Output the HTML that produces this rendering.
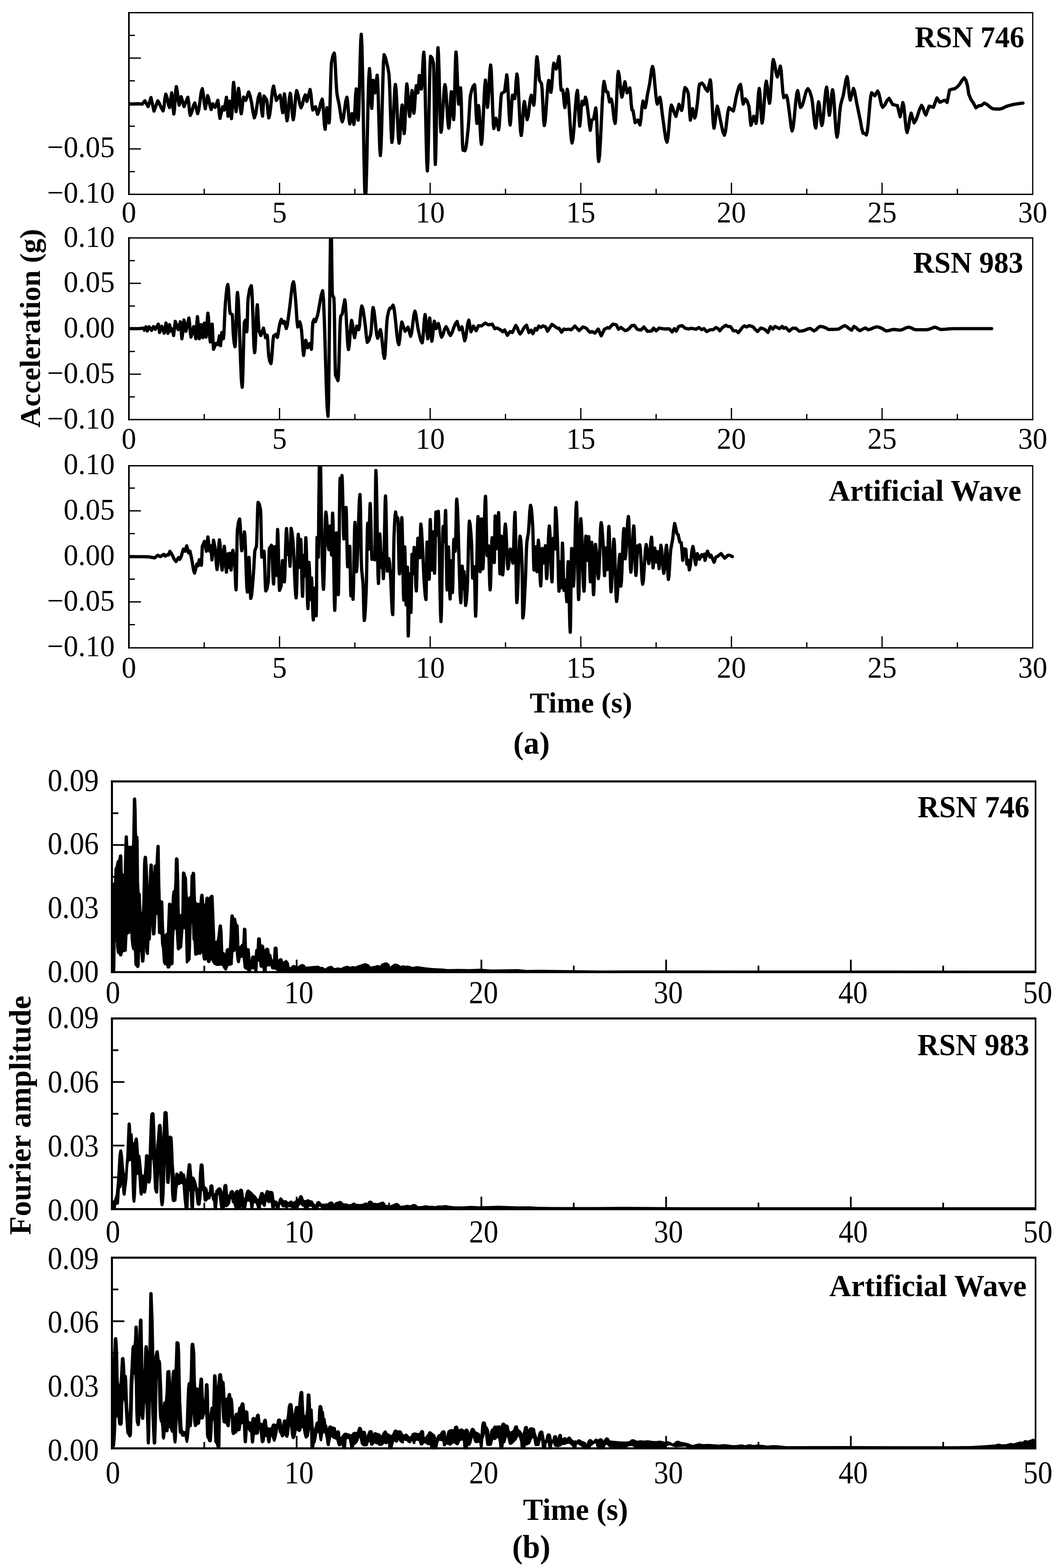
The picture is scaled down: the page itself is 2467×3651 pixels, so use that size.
<!DOCTYPE html>
<html lang="en">
<head>
<meta charset="utf-8">
<title>Ground motion records: acceleration time histories and Fourier amplitude spectra</title>
<style>
html,body{margin:0;padding:0;background:#fff;}
body{width:2467px;height:3651px;overflow:hidden;}
svg{display:block;font-family:"Liberation Serif", serif;}
</style>
</head>
<body>
<svg width="2467" height="3651" viewBox="0 0 2467 3651">
<rect width="2467" height="3651" fill="#fff"/>
<g stroke="#000" fill="none">
<path d="M300.00 82.38L314.00 82.38" stroke-width="3.0"/>
<path d="M300.00 135.25L328.00 135.25" stroke-width="3.0"/>
<path d="M300.00 188.12L314.00 188.12" stroke-width="3.0"/>
<path d="M300.00 241.00L328.00 241.00" stroke-width="3.0"/>
<path d="M300.00 293.88L314.00 293.88" stroke-width="3.0"/>
<path d="M300.00 346.75L328.00 346.75" stroke-width="3.0"/>
<path d="M300.00 399.62L314.00 399.62" stroke-width="3.0"/>
<path d="M475.29 452.50L475.29 439.50" stroke-width="3.0"/>
<path d="M650.58 452.50L650.58 425.50" stroke-width="3.0"/>
<path d="M825.88 452.50L825.88 439.50" stroke-width="3.0"/>
<path d="M1001.17 452.50L1001.17 425.50" stroke-width="3.0"/>
<path d="M1176.46 452.50L1176.46 439.50" stroke-width="3.0"/>
<path d="M1351.75 452.50L1351.75 425.50" stroke-width="3.0"/>
<path d="M1527.04 452.50L1527.04 439.50" stroke-width="3.0"/>
<path d="M1702.33 452.50L1702.33 425.50" stroke-width="3.0"/>
<path d="M1877.62 452.50L1877.62 439.50" stroke-width="3.0"/>
<path d="M2052.92 452.50L2052.92 425.50" stroke-width="3.0"/>
<path d="M2228.21 452.50L2228.21 439.50" stroke-width="3.0"/>
<path d="M300.00 606.88L314.00 606.88" stroke-width="3.0"/>
<path d="M300.00 659.75L328.00 659.75" stroke-width="3.0"/>
<path d="M300.00 712.62L314.00 712.62" stroke-width="3.0"/>
<path d="M300.00 765.50L328.00 765.50" stroke-width="3.0"/>
<path d="M300.00 818.38L314.00 818.38" stroke-width="3.0"/>
<path d="M300.00 871.25L328.00 871.25" stroke-width="3.0"/>
<path d="M300.00 924.12L314.00 924.12" stroke-width="3.0"/>
<path d="M475.29 977.00L475.29 964.00" stroke-width="3.0"/>
<path d="M650.58 977.00L650.58 950.00" stroke-width="3.0"/>
<path d="M825.88 977.00L825.88 964.00" stroke-width="3.0"/>
<path d="M1001.17 977.00L1001.17 950.00" stroke-width="3.0"/>
<path d="M1176.46 977.00L1176.46 964.00" stroke-width="3.0"/>
<path d="M1351.75 977.00L1351.75 950.00" stroke-width="3.0"/>
<path d="M1527.04 977.00L1527.04 964.00" stroke-width="3.0"/>
<path d="M1702.33 977.00L1702.33 950.00" stroke-width="3.0"/>
<path d="M1877.62 977.00L1877.62 964.00" stroke-width="3.0"/>
<path d="M2052.92 977.00L2052.92 950.00" stroke-width="3.0"/>
<path d="M2228.21 977.00L2228.21 964.00" stroke-width="3.0"/>
<path d="M300.00 1136.50L314.00 1136.50" stroke-width="3.0"/>
<path d="M300.00 1189.50L328.00 1189.50" stroke-width="3.0"/>
<path d="M300.00 1242.50L314.00 1242.50" stroke-width="3.0"/>
<path d="M300.00 1295.50L328.00 1295.50" stroke-width="3.0"/>
<path d="M300.00 1348.50L314.00 1348.50" stroke-width="3.0"/>
<path d="M300.00 1401.50L328.00 1401.50" stroke-width="3.0"/>
<path d="M300.00 1454.50L314.00 1454.50" stroke-width="3.0"/>
<path d="M475.29 1508.50L475.29 1495.50" stroke-width="3.0"/>
<path d="M650.58 1508.50L650.58 1481.50" stroke-width="3.0"/>
<path d="M825.88 1508.50L825.88 1495.50" stroke-width="3.0"/>
<path d="M1001.17 1508.50L1001.17 1481.50" stroke-width="3.0"/>
<path d="M1176.46 1508.50L1176.46 1495.50" stroke-width="3.0"/>
<path d="M1351.75 1508.50L1351.75 1481.50" stroke-width="3.0"/>
<path d="M1527.04 1508.50L1527.04 1495.50" stroke-width="3.0"/>
<path d="M1702.33 1508.50L1702.33 1481.50" stroke-width="3.0"/>
<path d="M1877.62 1508.50L1877.62 1495.50" stroke-width="3.0"/>
<path d="M2052.92 1508.50L2052.92 1481.50" stroke-width="3.0"/>
<path d="M2228.21 1508.50L2228.21 1495.50" stroke-width="3.0"/>
</g>
<rect x="298.10" y="27.95" width="3.80" height="426.10" fill="#000" stroke="none"/>
<rect x="2402.10" y="27.95" width="2.80" height="426.10" fill="#000" stroke="none"/>
<rect x="298.10" y="27.95" width="2106.80" height="3.10" fill="#000" stroke="none"/>
<rect x="298.10" y="450.95" width="2106.80" height="3.10" fill="#000" stroke="none"/>
<clipPath id="clip-a1"><rect x="300.0" y="29.5" width="2103.5" height="423.0"/></clipPath>
<path d="M296.0 241.6L301.0 241.9L306.0 242.1L311.0 242.1L316.0 241.9L321.0 241.6L326.0 242.0L331.0 242.4L337.2 234.7L340.9 241.5L344.7 248.2L348.1 237.7L351.4 227.2L354.9 243.0L358.4 258.7L362.8 246.7L367.2 234.7L370.9 240.6L374.7 249.9L379.6 258.2L381.7 248.1L383.8 229.4L385.9 219.2L388.8 227.3L391.7 242.4L394.6 250.5L397.1 233.2L399.6 216.0L401.3 228.8L402.9 252.6L404.6 265.5L406.0 255.5L407.5 233.6L408.9 211.7L410.4 201.8L412.6 213.0L414.9 233.8L417.1 245.0L419.3 235.1L421.6 225.2L425.0 236.7L428.3 248.2L432.7 237.4L437.1 226.5L439.0 237.4L440.9 257.8L442.8 268.7L446.3 261.2L449.8 247.2L453.3 239.7L456.7 252.1L460.0 264.5L462.7 255.4L465.4 235.5L468.1 215.6L470.8 206.5L473.1 218.6L475.4 241.1L477.8 253.2L480.5 238.0L483.3 222.7L486.0 231.1L488.8 246.6L491.5 255.0L495.0 241.5L500.7 250.0L503.9 241.7L507.0 233.5L508.7 244.4L510.3 264.8L512.0 275.7L515.1 262.1L518.2 248.5L522.0 256.2L524.5 241.4L527.0 226.5L528.8 248.6L530.7 270.7L532.6 253.1L534.5 235.5L536.6 255.8L538.7 276.2L539.9 263.0L541.2 234.0L542.4 205.0L543.7 191.8L545.1 202.4L546.6 225.9L548.0 249.3L549.4 260.0L551.3 245.9L553.3 219.6L555.2 205.5L556.7 214.8L558.3 235.2L559.9 255.7L561.4 265.0L563.2 254.9L565.1 236.1L566.9 226.0L571.9 233.8L575.3 224.0L578.6 214.2L582.1 223.2L585.6 239.9L588.8 260.6L591.9 274.5L595.0 265.6L598.1 246.2L601.2 226.8L604.4 218.0L606.6 231.6L608.9 256.9L611.1 270.5L612.7 247.0L614.4 223.5L620.6 232.4L622.3 245.1L623.9 264.5L625.6 274.5L627.8 266.7L630.1 248.3L632.3 226.4L634.6 208.0L636.8 200.3L639.9 217.0L643.1 233.8L647.4 227.6L651.8 221.5L653.9 232.1L656.0 251.9L658.0 262.5L659.9 240.5L661.8 218.5L663.4 228.3L664.9 249.9L666.5 271.4L668.0 281.2L669.9 271.2L671.8 249.2L673.7 227.2L675.5 217.2L677.3 226.8L679.0 248.0L680.8 269.1L682.5 278.7L684.5 268.1L686.5 244.8L688.5 221.5L690.5 210.9L693.8 221.3L697.2 240.7L700.5 251.1L703.8 243.3L707.1 228.7L710.5 220.9L714.2 236.1L718.0 222.2L721.7 208.4L723.8 220.7L725.9 243.7L728.0 256.1L734.2 248.5L736.7 257.3L739.2 266.1L742.8 256.9L746.3 240.0L749.9 230.8L751.6 241.8L753.3 265.9L755.0 290.1L756.7 301.0L758.1 288.0L759.5 263.8L760.9 250.8L763.4 268.4L765.9 286.1L766.9 276.4L767.8 252.0L768.8 219.8L769.7 186.6L770.7 159.3L771.6 144.8L774.8 129.4L777.9 123.5L779.1 131.8L780.4 152.1L781.6 177.6L782.9 201.6L784.1 217.3L786.6 231.1L789.1 242.2L791.6 258.7L794.1 275.7L796.6 283.6L799.3 274.6L802.0 255.0L804.7 235.3L807.4 226.3L809.0 236.1L810.7 257.5L812.4 278.8L814.1 288.6L816.6 276.6L819.1 264.5L821.3 277.2L823.6 289.8L825.0 276.9L826.3 248.5L827.7 220.0L829.1 207.1L830.2 218.5L831.3 243.5L832.4 268.5L833.6 279.8L834.8 265.0L836.0 228.0L837.2 179.8L838.4 131.6L839.6 94.6L840.8 79.8L842.4 108.5L844.0 180.2L845.6 273.4L847.1 366.7L848.7 438.4L850.3 467.1L851.9 444.3L853.5 387.4L855.0 313.4L856.6 239.4L858.2 182.5L859.8 159.7L860.9 169.3L862.0 192.3L863.1 219.7L864.2 242.7L865.3 252.4L866.3 235.4L867.3 204.1L868.3 187.1L870.5 201.6L872.8 216.2L874.4 205.5L876.1 185.8L877.8 175.2L879.0 189.0L880.3 223.7L881.5 268.7L882.8 313.7L884.0 348.4L885.3 362.2L886.7 344.8L888.2 301.3L889.6 244.7L891.1 188.1L892.5 144.6L894.0 127.2L897.1 134.2L900.2 147.3L902.7 157.3L905.2 172.3L906.4 190.5L907.6 221.8L908.7 258.8L909.9 294.3L911.1 321.0L912.2 331.5L913.6 321.5L914.9 296.5L916.2 264.1L917.5 231.6L918.9 206.6L920.2 196.6L921.7 206.8L923.1 232.1L924.6 265.1L926.0 298.0L927.5 323.4L928.9 333.5L930.3 324.3L931.7 302.2L933.1 275.9L934.5 253.8L935.9 244.6L937.1 255.0L938.3 277.8L939.5 300.6L940.7 311.0L941.7 302.5L942.8 281.0L943.8 253.2L944.8 225.4L945.9 204.0L946.9 195.4L948.5 207.2L950.2 233.2L951.8 259.3L953.4 271.1L955.2 255.5L957.1 226.5L958.9 210.9L960.3 224.5L961.7 249.9L963.2 263.6L964.6 253.6L966.0 231.6L967.5 209.6L968.9 199.6L972.6 216.2L974.3 196.0L975.9 175.9L978.3 191.7L980.6 207.4L981.8 198.5L982.9 177.2L984.1 151.7L985.2 130.4L986.4 121.5L987.8 142.0L989.1 193.1L990.5 259.7L991.9 326.3L993.2 377.4L994.6 397.9L995.9 378.1L997.1 328.7L998.4 264.4L999.6 200.2L1000.9 150.7L1002.1 131.0L1005.5 134.9L1008.8 147.3L1009.6 167.2L1010.3 211.6L1011.0 267.8L1011.7 323.4L1012.4 366.0L1013.1 382.9L1014.1 362.8L1015.2 312.4L1016.2 247.0L1017.3 181.5L1018.3 131.1L1019.3 111.0L1020.5 125.6L1021.7 162.1L1022.8 209.5L1024.0 256.9L1025.2 293.4L1026.3 308.0L1027.9 299.8L1029.4 279.3L1030.9 252.6L1032.5 225.9L1034.0 205.3L1035.6 197.1L1037.1 204.6L1038.6 223.4L1040.1 247.8L1041.6 272.3L1043.1 291.0L1044.6 298.5L1045.8 289.7L1047.0 268.6L1048.1 243.3L1049.3 222.2L1050.5 213.4L1051.9 223.6L1053.2 246.0L1054.5 268.4L1055.8 278.6L1056.7 266.9L1057.6 237.7L1058.5 199.8L1059.5 161.8L1060.4 132.7L1061.3 121.0L1062.3 130.0L1063.4 152.4L1064.4 181.7L1065.4 210.9L1066.5 233.4L1067.5 242.4L1069.6 223.5L1071.8 204.6L1072.7 215.3L1073.7 242.0L1074.6 276.8L1075.6 311.7L1076.6 338.6L1077.5 349.7L1082.0 351.0L1084.0 345.8L1086.0 332.6L1088.0 314.4L1090.0 294.7L1091.2 277.6L1092.5 255.4L1093.7 234.7L1095.0 222.2L1098.1 209.0L1101.3 200.3L1104.5 197.1L1105.6 206.5L1106.7 228.9L1107.8 255.6L1108.9 277.9L1110.0 287.3L1111.8 266.6L1113.7 245.8L1115.1 255.2L1116.4 277.6L1117.8 304.3L1119.1 326.6L1120.4 336.0L1122.0 324.9L1123.6 297.2L1125.2 261.2L1126.8 225.2L1128.4 197.5L1129.9 186.4L1131.4 202.8L1132.9 233.4L1134.4 249.9L1135.9 239.6L1137.4 215.2L1138.9 186.1L1140.4 161.7L1141.9 151.4L1143.2 162.4L1144.4 189.8L1145.7 225.4L1146.9 261.0L1148.2 288.3L1149.4 299.3L1151.9 287.3L1154.4 275.3L1157.4 288.8L1160.4 302.3L1161.8 293.7L1163.2 273.0L1164.6 248.2L1166.0 227.0L1167.4 217.3L1174.4 213.5L1176.9 193.2L1179.4 174.2L1180.7 182.8L1182.0 204.5L1183.4 232.6L1184.7 260.8L1186.0 282.4L1187.4 291.1L1188.7 280.2L1190.1 256.3L1191.5 232.5L1192.9 221.6L1197.9 229.7L1199.6 214.8L1201.3 187.1L1203.1 172.2L1204.8 182.8L1206.4 209.3L1208.1 243.8L1209.8 278.4L1211.4 304.9L1213.1 315.5L1214.5 307.3L1216.0 287.7L1217.4 264.2L1218.9 244.6L1220.3 236.3L1222.5 247.3L1224.7 267.6L1226.8 278.6L1229.3 269.7L1231.7 250.1L1234.1 230.5L1236.6 221.6L1239.4 233.2L1242.3 244.9L1243.5 236.5L1244.8 215.7L1246.0 188.5L1247.3 161.4L1248.5 140.6L1249.8 132.2L1251.7 145.4L1253.6 170.8L1255.5 187.3L1260.3 194.8L1261.6 207.2L1262.9 231.7L1264.2 259.7L1265.5 282.7L1266.8 292.3L1268.5 284.5L1270.3 265.0L1272.0 239.7L1273.8 214.4L1275.5 194.9L1277.3 187.1L1279.8 201.0L1282.2 214.9L1283.9 204.3L1285.6 181.0L1287.3 157.8L1289.0 147.2L1291.9 154.0L1294.7 160.7L1297.9 146.1L1301.0 131.5L1302.2 143.7L1303.5 170.6L1304.7 197.5L1306.0 209.8L1309.7 209.6L1311.4 220.2L1313.0 240.0L1314.7 250.6L1316.5 239.5L1318.4 218.9L1320.2 207.9L1322.1 217.1L1323.9 240.3L1325.8 270.4L1327.7 300.6L1329.6 323.7L1331.4 333.0L1333.5 323.9L1335.6 301.2L1337.7 271.7L1339.8 242.2L1341.8 219.5L1343.9 210.4L1345.2 223.4L1346.5 252.0L1347.9 280.6L1349.2 293.6L1351.0 278.6L1352.8 250.8L1354.7 235.8L1358.4 243.6L1362.6 226.3L1365.0 233.9L1367.3 251.2L1369.6 269.7L1371.8 290.4L1373.9 303.5L1375.5 292.0L1377.1 279.5L1381.6 277.2L1384.1 263.7L1386.6 251.3L1387.7 260.5L1388.9 283.6L1390.0 313.6L1391.1 343.6L1392.2 366.7L1393.4 376.0L1395.4 362.1L1397.5 327.6L1399.6 282.8L1401.7 237.9L1403.8 203.4L1405.8 189.6L1408.3 201.2L1410.8 213.5L1414.6 214.6L1416.6 226.2L1418.6 237.2L1422.6 230.8L1424.8 239.7L1427.1 259.1L1429.3 278.5L1431.6 287.3L1432.8 278.4L1434.1 256.0L1435.3 226.9L1436.6 197.8L1437.8 175.4L1439.1 166.4L1441.2 175.8L1443.3 196.3L1445.4 216.8L1447.5 226.1L1449.9 216.9L1452.2 199.7L1454.5 190.4L1457.0 203.3L1459.5 216.2L1462.6 210.4L1465.8 204.6L1467.4 217.7L1469.1 242.2L1470.8 256.1L1473.2 257.2L1475.7 271.9L1478.2 285.6L1484.5 279.5L1489.5 291.1L1491.8 276.6L1494.1 249.8L1496.5 235.3L1501.5 251.1L1504.0 240.0L1506.5 222.2L1509.2 208.5L1512.0 194.8L1514.2 179.0L1516.4 162.4L1518.7 154.7L1520.6 161.2L1522.4 177.4L1524.3 198.5L1526.2 219.6L1528.1 235.9L1529.9 242.4L1532.8 234.4L1535.7 226.3L1537.8 234.6L1539.8 252.5L1541.9 269.7L1544.5 288.7L1547.2 308.7L1549.8 324.6L1552.4 331.0L1554.4 322.0L1556.5 300.6L1558.5 275.0L1560.6 253.6L1562.6 244.6L1565.4 250.4L1568.1 259.7L1573.1 271.1L1576.6 257.0L1580.1 242.8L1583.2 250.1L1586.4 257.3L1588.4 249.0L1590.4 230.6L1592.3 212.2L1594.3 203.9L1598.1 207.5L1601.8 217.3L1603.5 235.9L1605.2 264.8L1606.8 279.8L1609.3 266.3L1611.8 252.8L1614.3 263.8L1616.8 274.8L1618.9 268.9L1621.0 255.2L1623.1 239.7L1624.7 223.6L1626.4 205.3L1628.1 195.9L1633.8 193.4L1638.1 198.3L1642.5 207.5L1646.8 212.4L1649.9 199.2L1653.0 185.9L1654.5 194.2L1655.9 215.1L1657.4 242.2L1658.8 269.3L1660.3 290.2L1661.8 298.5L1664.3 285.2L1666.8 260.4L1669.3 247.1L1672.4 257.7L1675.5 274.7L1679.0 291.5L1682.5 307.6L1686.0 314.8L1688.7 304.7L1691.4 282.5L1694.0 260.4L1696.7 250.3L1701.7 254.5L1706.7 258.6L1709.8 245.9L1712.9 227.2L1716.4 213.3L1719.9 201.4L1723.4 196.4L1725.5 208.3L1727.6 230.4L1729.7 242.4L1734.7 230.3L1738.8 235.2L1742.9 247.2L1744.6 261.4L1746.2 281.5L1747.9 291.8L1751.0 281.0L1754.1 270.3L1756.9 278.8L1759.6 287.3L1761.1 278.8L1762.6 258.6L1764.1 234.5L1765.6 214.3L1767.1 205.9L1768.8 218.5L1770.4 246.2L1772.0 274.0L1773.6 286.6L1775.3 279.3L1777.0 261.2L1778.6 237.7L1780.3 214.2L1781.9 196.1L1783.6 188.9L1786.0 202.3L1788.4 227.2L1790.9 240.6L1792.3 233.1L1793.8 214.1L1795.3 189.5L1796.8 164.9L1798.3 146.0L1799.8 138.5L1802.9 149.0L1806.0 168.6L1809.1 179.2L1812.6 166.6L1816.1 153.9L1818.1 165.4L1820.1 190.7L1822.1 215.9L1824.1 227.4L1830.3 222.1L1832.4 228.4L1834.5 242.4L1836.5 257.2L1838.9 275.9L1841.2 295.6L1843.5 304.8L1845.7 297.8L1847.9 280.4L1850.0 257.8L1852.2 235.2L1854.4 217.8L1856.5 210.9L1858.6 221.0L1860.7 239.7L1862.8 249.9L1864.0 249.9L1867.2 245.3L1870.5 234.6L1873.7 221.7L1877.0 210.9L1880.2 206.4L1884.6 212.9L1889.0 227.2L1890.9 239.0L1892.8 257.1L1894.7 276.4L1896.6 291.8L1898.5 298.0L1900.1 288.5L1901.8 267.6L1903.5 246.6L1905.2 237.1L1907.1 245.7L1908.9 264.7L1910.8 283.7L1912.7 292.3L1914.6 285.7L1916.4 269.1L1918.3 247.6L1920.2 226.1L1922.1 209.5L1923.9 202.9L1925.5 213.1L1927.0 235.7L1928.6 258.3L1930.2 268.6L1932.0 259.3L1933.9 238.7L1935.8 218.2L1937.7 208.9L1939.4 217.0L1941.2 237.5L1942.9 264.1L1944.6 290.6L1946.4 311.1L1948.1 319.3L1950.2 309.6L1952.3 287.2L1954.3 262.2L1956.4 244.7L1959.5 232.8L1962.6 222.2L1965.5 205.5L1968.5 187.1L1971.4 178.4L1973.2 187.0L1975.1 205.8L1977.0 224.6L1978.9 233.1L1982.6 219.5L1986.3 205.9L1988.8 212.1L1991.3 225.8L1993.8 239.7L1996.8 253.8L1999.7 268.1L2002.6 282.2L2005.7 299.9L2008.8 310.5L2012.6 310.7L2016.3 314.3L2018.4 307.0L2020.5 288.8L2022.6 265.1L2024.6 241.4L2026.7 223.1L2028.8 215.9L2035.8 223.1L2039.2 217.6L2042.5 212.1L2045.5 218.0L2048.4 231.0L2051.3 244.0L2054.3 249.9L2059.3 244.5L2064.2 234.5L2069.2 229.1L2073.4 235.9L2077.5 243.5L2083.1 244.6L2088.7 246.0L2091.8 259.3L2095.0 271.8L2098.1 255.3L2101.2 238.8L2103.2 246.1L2105.2 263.4L2107.2 284.0L2109.2 301.3L2111.2 308.5L2114.4 296.8L2117.5 275.0L2120.7 263.3L2124.0 274.7L2127.4 286.1L2131.8 279.2L2136.2 267.2L2140.5 253.7L2144.9 245.3L2148.2 251.2L2151.6 262.0L2154.9 267.8L2158.6 257.5L2162.4 247.1L2167.4 248.5L2172.4 249.9L2176.5 238.9L2180.6 227.8L2184.0 233.0L2187.3 238.1L2192.3 236.1L2197.3 233.8L2200.0 233.7L2204.2 238.5L2207.0 224.7L2209.8 209.9L2215.4 207.8L2222.4 206.4L2228.0 202.2L2231.5 198.3L2235.0 193.8L2239.6 186.0L2244.1 181.2L2248.0 186.9L2251.8 200.1L2254.7 219.7L2260.3 232.3L2265.9 240.7L2271.5 251.1L2277.8 246.3L2284.1 245.6L2291.1 240.1L2296.0 242.4L2300.9 246.3L2305.8 250.5L2310.7 253.3L2315.8 253.7L2321.0 253.9L2326.1 254.0L2332.2 252.6L2338.3 249.6L2344.3 247.0L2349.9 245.4L2355.5 244.0L2361.2 242.8L2367.7 241.7L2374.2 240.7L2380.8 240.0" clip-path="url(#clip-a1)" fill="none" stroke="#000" stroke-width="7.6" stroke-linejoin="round" stroke-linecap="round"/>
<rect x="298.10" y="552.45" width="3.80" height="426.10" fill="#000" stroke="none"/>
<rect x="2402.10" y="552.45" width="2.80" height="426.10" fill="#000" stroke="none"/>
<rect x="298.10" y="552.45" width="2106.80" height="3.10" fill="#000" stroke="none"/>
<rect x="298.10" y="975.45" width="2106.80" height="3.10" fill="#000" stroke="none"/>
<clipPath id="clip-a2"><rect x="300.0" y="554.0" width="2103.5" height="423.0"/></clipPath>
<path d="M296.0 765.3L302.2 765.3L308.5 765.3L314.7 765.3L321.0 765.3L328.5 764.8L333.5 763.9L336.0 768.7L339.7 760.9L342.7 770.7L347.2 760.9L352.9 769.2L357.2 760.4L361.4 766.7L364.9 760.7L368.4 754.7L371.4 774.2L376.4 759.7L379.3 767.7L382.1 775.7L384.3 763.9L386.4 752.2L388.6 764.2L390.9 776.2L394.6 755.9L398.4 771.2L400.9 765.9L404.1 781.2L406.0 764.8L407.9 748.4L411.2 758.0L414.6 767.5L417.1 758.3L419.6 749.2L421.5 768.9L423.3 788.7L425.0 777.4L426.7 756.5L428.3 745.2L430.6 758.2L432.8 771.2L436.2 755.8L439.6 740.5L441.2 752.0L442.9 773.4L444.6 784.9L447.7 772.7L450.8 760.4L453.3 774.6L455.8 788.7L457.0 775.3L458.3 750.6L459.5 737.2L461.0 750.6L462.4 775.3L463.8 788.7L466.0 772.3L468.3 755.9L470.2 771.1L472.0 786.2L473.9 769.2L475.8 752.2L477.6 768.6L479.5 784.9L480.9 770.5L482.4 743.7L483.8 729.2L485.2 739.7L486.6 762.7L488.1 785.7L489.5 796.2L491.6 775.4L493.8 754.7L494.8 769.8L495.9 798.0L497.0 813.2L499.9 806.4L502.7 799.6L507.0 802.4L510.7 782.2L513.2 804.9L514.7 789.5L516.2 774.2L520.0 788.7L521.1 778.3L522.2 754.3L523.3 727.1L524.5 707.4L526.4 686.2L528.3 669.3L530.2 662.3L531.6 672.6L533.0 695.4L534.3 718.6L535.7 729.9L540.7 732.4L541.7 750.9L542.7 774.8L544.8 797.5L546.9 807.4L547.9 798.0L548.9 774.6L549.8 744.2L550.8 713.8L551.7 690.4L552.7 681.0L554.5 697.4L556.3 738.2L558.2 791.3L560.0 844.4L561.8 885.2L563.7 901.5L564.5 890.7L565.4 863.4L566.3 827.7L567.2 791.5L568.0 762.9L568.9 749.8L571.4 745.4L572.9 759.0L574.4 772.5L575.2 761.4L575.9 736.6L576.6 710.3L577.4 694.9L581.1 672.9L584.9 665.3L586.2 676.8L587.5 705.7L588.8 743.2L590.0 780.7L591.3 809.6L592.6 821.1L593.7 812.9L594.7 792.3L595.8 765.4L596.8 738.6L597.8 718.0L598.9 709.7L600.1 724.0L601.4 751.7L602.6 769.8L606.9 781.2L610.0 772.6L613.1 763.9L615.6 775.1L618.1 786.2L621.8 780.4L623.1 791.7L624.3 813.9L625.6 829.7L628.1 841.6L630.6 846.6L632.1 837.0L633.7 815.6L635.3 793.6L636.8 782.3L641.8 778.4L645.6 785.7L647.4 776.8L649.3 763.6L652.1 750.4L654.8 743.5L658.5 752.5L661.8 748.4L666.3 765.0L668.5 757.7L670.8 741.6L673.0 724.9L675.0 709.6L677.0 691.5L679.0 674.2L681.0 661.2L683.0 656.1L684.7 663.4L686.3 680.2L688.0 698.8L689.7 722.6L691.3 748.9L693.0 761.4L697.5 749.3L699.6 755.6L701.7 768.7L703.4 788.8L705.1 814.7L706.7 827.5L709.2 809.9L711.7 792.3L716.0 809.6L720.5 799.8L724.7 813.3L725.8 798.3L726.9 769.5L728.0 751.2L730.9 743.6L734.2 748.9L739.2 733.8L741.7 720.6L744.2 706.3L747.6 687.5L750.9 676.9L753.0 698.6L755.1 752.8L757.2 823.2L759.2 893.5L761.3 947.7L763.4 969.4L764.6 935.7L765.7 851.6L766.9 742.3L768.1 632.9L769.2 548.8L770.4 515.1L770.9 527.5L771.5 558.5L772.0 599.0L772.6 639.9L773.1 672.1L773.6 686.3L777.1 693.8L777.8 708.5L778.4 741.4L779.0 783.5L779.6 825.6L780.3 858.7L780.9 873.6L786.6 886.2L787.7 875.4L788.7 848.4L789.7 813.1L790.8 777.3L791.8 749.1L792.9 736.3L796.6 731.3L799.5 713.2L802.4 698.2L803.8 706.7L805.3 728.1L806.7 756.0L808.2 783.8L809.6 805.2L811.1 813.8L812.9 803.2L814.7 780.0L816.5 756.7L818.3 746.1L820.7 756.5L823.0 775.9L825.3 786.3L827.8 772.8L830.3 759.3L834.8 767.6L836.6 759.0L838.4 740.0L840.2 721.0L842.1 712.4L844.8 720.2L847.6 738.3L850.3 758.7L852.5 781.8L854.8 797.1L858.8 791.9L862.8 778.7L864.2 765.8L865.5 744.7L866.9 724.9L868.3 716.1L870.4 723.6L872.6 741.3L874.7 762.4L876.9 780.2L879.0 787.6L882.1 777.5L885.3 767.3L887.6 777.8L890.0 800.9L892.4 824.0L894.7 834.5L896.1 825.8L897.4 804.4L898.8 777.8L900.1 753.4L901.5 738.8L904.6 723.9L907.7 717.4L911.0 717.2L914.7 710.4L917.0 717.2L919.2 734.3L921.5 756.5L923.7 778.7L926.0 795.7L928.2 802.6L930.5 788.9L932.9 763.5L935.2 749.8L938.9 760.6L942.7 771.4L946.2 766.6L949.7 761.8L952.7 772.5L955.7 783.1L958.2 773.9L960.7 753.7L963.2 733.6L965.7 724.4L968.0 732.3L970.3 749.0L972.6 763.7L976.0 779.1L979.3 792.6L982.6 798.3L984.3 788.0L986.0 765.3L987.7 742.7L989.4 732.4L991.5 747.0L993.5 774.2L995.6 788.8L997.1 776.3L998.6 752.9L1000.1 740.4L1001.8 754.4L1003.4 780.5L1005.1 794.6L1007.0 782.5L1008.9 760.0L1010.8 747.8L1015.1 765.1L1020.1 753.1L1022.6 761.4L1025.1 776.8L1027.6 785.1L1031.1 778.7L1034.6 766.9L1038.1 760.6L1041.5 766.0L1044.9 776.0L1048.3 781.3L1052.3 773.9L1056.3 762.3L1060.0 753.5L1063.8 748.6L1066.5 758.4L1069.3 768.1L1075.0 761.1L1078.2 777.2L1081.5 793.4L1083.9 785.9L1086.3 769.4L1088.7 752.8L1091.1 745.3L1093.7 758.9L1096.2 772.5L1101.8 759.3L1105.0 764.6L1108.2 770.0L1113.3 758.6L1121.0 758.8L1125.0 755.5L1129.1 752.2L1136.8 756.5L1141.2 755.6L1145.7 754.7L1151.5 765.4L1156.6 763.7L1164.3 767.7L1170.1 772.5L1174.5 768.2L1177.6 774.5L1180.8 780.7L1187.2 772.1L1192.3 774.3L1196.4 766.1L1200.4 757.8L1203.8 762.9L1207.2 772.5L1210.6 777.6L1214.2 773.1L1217.8 766.2L1221.6 760.5L1225.4 757.3L1228.2 765.8L1231.0 774.3L1236.1 768.8L1240.2 776.8L1245.8 764.9L1249.6 768.4L1253.9 759.3L1258.5 762.3L1263.6 758.8L1270.0 761.3L1274.3 771.2L1279.4 763.2L1284.5 755.3L1291.7 760.1L1296.8 764.1L1301.3 764.4L1306.9 773.5L1312.0 766.2L1317.1 767.4L1323.5 766.5L1329.4 767.9L1333.7 763.6L1338.0 759.3L1342.9 764.5L1347.7 769.7L1352.2 765.5L1356.6 761.4L1361.1 762.6L1365.5 765.2L1369.4 770.1L1373.2 773.8L1377.8 772.1L1384.6 775.6L1388.5 770.9L1392.3 766.2L1395.7 774.1L1399.2 781.9L1402.7 775.2L1406.3 767.0L1413.9 762.9L1417.8 764.1L1422.0 759.4L1426.2 754.7L1434.3 756.2L1439.4 766.7L1445.0 762.4L1450.1 766.2L1455.2 770.0L1459.4 768.6L1463.6 765.7L1470.0 758.3L1476.4 757.5L1482.7 766.4L1487.2 767.9L1491.7 768.5L1498.5 761.3L1502.7 766.4L1506.9 771.5L1512.0 771.2L1517.1 770.3L1521.0 763.9L1527.3 770.3L1533.7 763.9L1540.1 764.9L1546.4 765.9L1552.2 765.9L1557.9 765.9L1564.3 772.8L1569.4 765.2L1573.9 771.0L1579.6 760.1L1587.7 758.3L1594.8 764.4L1602.5 765.9L1608.9 764.4L1614.6 765.4L1620.3 766.4L1626.7 762.6L1633.1 767.7L1638.2 765.2L1644.5 772.0L1649.0 769.9L1653.4 767.7L1659.8 767.7L1666.2 762.6L1671.3 765.2L1675.1 770.3L1681.5 762.6L1689.1 757.5L1694.2 760.1L1700.6 760.8L1706.9 770.3L1713.3 770.3L1718.4 774.6L1724.8 766.4L1728.6 761.5L1732.4 758.8L1737.5 761.3L1743.1 758.3L1748.0 759.2L1752.8 761.3L1757.9 767.3L1763.0 772.0L1766.8 768.0L1770.6 763.9L1775.7 765.1L1780.8 767.7L1787.2 774.1L1790.1 767.5L1793.1 760.8L1798.7 766.4L1803.8 760.1L1808.9 762.6L1813.9 765.2L1820.3 760.1L1824.1 764.4L1828.7 762.6L1832.8 766.8L1836.9 771.0L1840.7 767.7L1844.5 764.4L1852.2 764.4L1856.0 767.7L1859.8 771.0L1864.9 770.7L1870.0 769.9L1875.3 768.1L1880.5 765.8L1885.8 764.6L1890.1 767.6L1894.5 770.6L1899.2 767.8L1903.9 762.8L1908.5 760.1L1915.5 761.1L1922.5 763.6L1927.8 767.1L1933.5 767.0L1939.2 766.9L1944.9 766.7L1950.6 766.4L1955.8 764.1L1961.1 760.3L1966.3 758.3L1970.7 760.6L1975.1 764.3L1982.1 768.8L1987.4 760.1L1992.0 762.6L1996.7 767.3L2001.4 769.9L2007.5 766.7L2013.6 763.6L2020.6 767.8L2027.1 766.0L2033.5 762.8L2039.9 761.1L2046.0 762.1L2052.2 764.3L2057.4 767.9L2062.7 770.6L2068.5 769.7L2074.4 768.0L2080.2 767.1L2087.2 767.9L2094.2 768.8L2099.5 767.7L2104.7 765.3L2110.0 762.9L2115.2 761.8L2120.5 763.4L2125.7 766.2L2131.0 767.8L2137.6 767.8L2144.1 767.8L2150.7 767.8L2157.3 767.8L2163.7 766.2L2170.1 763.4L2176.5 761.8L2182.7 764.4L2188.8 767.1L2195.1 766.9L2201.4 766.5L2207.7 765.9L2214.0 765.5L2220.3 765.3L2234.9 765.3L2249.5 765.3L2264.1 765.3L2278.7 765.3L2293.3 765.3L2307.9 765.3" clip-path="url(#clip-a2)" fill="none" stroke="#000" stroke-width="7.6" stroke-linejoin="round" stroke-linecap="round"/>
<rect x="298.10" y="1082.95" width="3.80" height="427.10" fill="#000" stroke="none"/>
<rect x="2402.10" y="1082.95" width="2.80" height="427.10" fill="#000" stroke="none"/>
<rect x="298.10" y="1082.95" width="2106.80" height="3.10" fill="#000" stroke="none"/>
<rect x="298.10" y="1506.95" width="2106.80" height="3.10" fill="#000" stroke="none"/>
<clipPath id="clip-a3"><rect x="300.0" y="1084.5" width="2103.5" height="424.0"/></clipPath>
<path d="M296.0 1296.0L302.2 1296.0L308.5 1296.1L314.7 1296.2L321.0 1296.2L327.2 1296.3L333.5 1296.3L339.7 1296.4L345.9 1296.5L352.8 1297.8L359.7 1299.1L363.4 1296.0L367.2 1292.8L373.4 1296.1L380.9 1290.8L384.6 1294.9L388.4 1292.1L392.1 1292.4L395.4 1283.8L400.9 1292.2L405.2 1301.6L409.6 1307.4L415.4 1298.3L418.3 1302.4L422.1 1294.7L424.6 1285.0L427.1 1278.4L430.8 1283.6L434.6 1270.9L438.8 1287.4L442.1 1283.3L445.8 1299.7L448.1 1313.5L450.5 1327.7L452.8 1334.3L455.6 1323.8L458.3 1313.3L461.3 1317.3L463.8 1303.3L468.8 1316.1L469.8 1295.4L470.8 1272.3L475.8 1260.4L478.0 1272.0L480.3 1283.6L482.0 1267.0L483.8 1250.4L486.0 1267.0L488.3 1283.6L490.8 1270.9L492.0 1287.2L493.3 1303.6L494.5 1291.8L495.8 1269.7L497.0 1257.9L500.7 1277.2L502.2 1294.5L503.7 1315.7L505.2 1326.1L506.6 1315.3L508.0 1291.6L509.4 1267.9L510.7 1257.1L512.3 1268.1L513.9 1292.2L515.4 1316.4L517.0 1327.3L518.6 1313.0L520.3 1286.4L522.0 1272.1L523.6 1287.7L525.3 1316.7L527.0 1332.3L528.8 1311.0L530.7 1289.6L532.0 1305.3L533.2 1321.1L534.2 1304.7L535.2 1288.3L536.4 1307.8L537.7 1327.3L539.1 1315.4L540.5 1293.3L541.9 1281.3L545.7 1299.7L546.6 1315.4L547.6 1340.3L548.5 1363.4L549.4 1373.5L549.9 1363.9L550.4 1339.7L550.9 1307.8L551.4 1275.1L551.9 1248.5L552.4 1234.8L555.1 1215.2L557.7 1208.4L558.9 1220.0L560.2 1245.4L561.4 1270.8L562.7 1282.4L564.7 1271.0L566.8 1249.8L568.9 1238.4L570.0 1248.8L571.2 1274.7L572.3 1308.5L573.4 1342.2L574.5 1368.1L575.7 1378.5L576.6 1365.9L577.5 1338.2L578.5 1310.4L579.4 1297.8L580.2 1307.8L581.1 1331.5L581.9 1359.8L582.8 1383.5L583.6 1393.5L585.4 1387.0L587.1 1370.5L588.9 1348.2L590.6 1324.7L591.9 1300.9L593.1 1282.2L596.9 1272.3L597.6 1259.3L598.4 1233.5L599.1 1204.1L599.9 1179.8L600.6 1169.7L603.5 1174.1L606.4 1187.4L607.0 1201.2L607.6 1228.7L608.2 1260.3L608.8 1286.4L609.4 1297.2L614.4 1283.3L615.2 1293.0L616.0 1316.0L616.9 1343.4L617.7 1366.4L618.6 1376.0L621.5 1370.7L624.3 1354.7L625.0 1340.3L625.6 1314.6L626.2 1289.6L626.8 1277.2L631.8 1269.6L632.8 1279.0L633.8 1301.4L634.8 1328.0L635.8 1350.4L636.8 1359.8L637.4 1346.2L638.1 1316.3L638.7 1286.4L639.3 1272.9L640.7 1290.2L642.2 1322.5L643.6 1339.8L644.1 1328.7L644.6 1302.2L645.1 1270.5L645.6 1244.0L646.1 1232.9L646.8 1243.4L647.6 1269.7L648.3 1303.8L649.1 1338.0L649.8 1364.3L650.6 1374.8L654.3 1364.6L655.3 1347.1L656.3 1319.6L657.3 1305.3L658.8 1318.1L660.3 1342.0L661.8 1354.8L662.6 1345.6L663.5 1322.7L664.3 1292.9L665.1 1263.0L666.0 1240.1L666.8 1230.9L668.0 1246.5L669.3 1275.5L670.5 1291.1L672.3 1268.4L673.2 1281.4L674.1 1305.6L675.0 1318.6L675.7 1304.8L676.3 1274.5L676.9 1244.2L677.5 1230.4L679.6 1240.0L681.8 1259.8L683.0 1277.9L684.3 1304.7L685.5 1335.0L686.8 1363.2L688.0 1384.1L689.2 1392.2L690.1 1381.3L690.9 1353.9L691.7 1318.2L692.6 1282.5L693.4 1255.1L694.2 1244.1L695.2 1256.2L696.1 1282.6L697.1 1309.1L698.0 1321.1L698.7 1304.3L699.3 1273.2L700.0 1256.4L700.7 1266.2L701.4 1290.6L702.1 1322.4L702.8 1354.2L703.5 1378.7L704.2 1388.5L704.9 1373.6L705.5 1340.9L706.1 1308.2L706.7 1293.3L708.0 1317.2L709.2 1341.1L709.8 1327.2L710.5 1296.6L711.1 1266.0L711.7 1252.1L712.6 1264.4L713.4 1294.9L714.2 1334.7L715.0 1374.4L715.9 1405.0L716.7 1417.2L717.2 1406.0L717.7 1379.3L718.2 1347.5L718.7 1320.8L719.2 1309.6L720.1 1323.1L721.1 1352.8L722.0 1382.5L723.0 1396.0L724.0 1370.9L725.0 1345.8L725.8 1355.9L726.7 1380.1L727.5 1409.1L728.3 1433.3L729.2 1443.4L730.0 1431.9L730.8 1406.5L731.6 1381.0L732.4 1369.5L733.6 1386.2L734.8 1417.2L735.9 1433.9L736.3 1420.4L736.6 1386.6L736.9 1342.7L737.3 1298.7L737.6 1264.9L737.9 1251.4L739.4 1274.4L740.9 1297.4L741.1 1288.9L741.3 1267.7L741.5 1239.7L741.7 1210.9L741.9 1187.4L742.2 1159.2L742.6 1133.3L742.9 1108.8L743.2 1085.0L743.5 1059.3L743.8 1031.1L744.1 1005.2L744.4 986.1L744.7 978.7L745.0 986.4L745.3 1006.1L745.6 1032.6L745.9 1060.6L746.2 1085.0L746.5 1106.6L746.8 1128.9L747.1 1150.7L747.4 1170.6L747.7 1187.4L748.5 1231.1L749.4 1273.7L750.3 1312.2L751.2 1343.5L752.0 1364.6L752.9 1372.3L753.8 1358.9L754.7 1325.6L755.7 1282.2L756.6 1238.9L757.5 1205.5L758.4 1192.2L759.8 1201.3L761.2 1223.1L762.6 1249.0L764.0 1270.8L765.4 1279.9L766.4 1265.6L767.4 1239.0L768.4 1224.7L769.5 1242.2L770.6 1274.8L771.6 1292.4L772.3 1277.1L772.9 1243.5L773.5 1210.0L774.1 1194.7L775.0 1211.5L775.8 1253.4L776.6 1307.8L777.5 1362.3L778.3 1404.2L779.1 1421.0L779.8 1407.6L780.4 1374.3L781.0 1330.9L781.6 1287.6L782.3 1254.2L782.9 1240.9L783.6 1251.6L784.4 1278.2L785.1 1312.8L785.9 1347.5L786.6 1374.1L787.4 1384.8L788.1 1364.7L788.8 1314.4L789.5 1249.2L790.2 1183.9L790.9 1133.6L791.6 1113.6L792.7 1129.9L793.9 1146.3L794.9 1126.8L795.9 1107.3L796.6 1118.2L797.4 1145.6L798.1 1181.1L798.9 1216.7L799.6 1244.0L800.4 1254.9L801.6 1243.4L802.9 1218.2L804.1 1192.9L805.4 1181.5L806.0 1191.7L806.6 1217.3L807.2 1250.7L807.9 1284.0L808.5 1309.6L809.1 1319.8L810.8 1307.5L812.4 1284.5L814.1 1272.1L814.6 1284.1L815.1 1312.6L815.6 1346.7L816.1 1375.3L816.6 1387.3L818.8 1365.7L820.2 1380.6L821.6 1395.5L822.3 1382.2L823.1 1349.1L823.8 1306.0L824.6 1262.9L825.3 1229.7L826.1 1216.4L826.8 1228.4L827.5 1256.8L828.2 1290.7L828.9 1319.2L829.6 1331.1L830.9 1317.8L832.3 1284.5L833.7 1241.3L835.1 1198.1L836.4 1164.8L837.8 1151.5L838.4 1162.9L839.1 1191.9L839.7 1230.5L840.3 1270.8L840.9 1304.8L841.6 1324.7L843.2 1341.4L844.8 1357.1L845.6 1377.1L846.3 1406.5L847.1 1433.1L847.8 1444.7L848.9 1438.7L850.0 1422.9L851.2 1400.5L852.3 1374.6L852.9 1353.5L853.5 1321.9L854.0 1286.2L854.6 1252.8L855.2 1228.1L855.8 1218.4L856.6 1234.0L857.5 1263.0L858.3 1278.6L858.9 1267.6L859.6 1241.2L860.2 1209.7L860.9 1183.3L861.5 1172.2L862.2 1181.9L862.9 1206.0L863.7 1237.3L864.4 1268.6L865.1 1292.7L865.8 1302.4L870.3 1298.3L872.3 1303.6L872.7 1288.2L873.1 1249.7L873.5 1199.6L873.9 1149.5L874.4 1111.0L874.8 1095.6L875.8 1115.1L876.8 1163.8L877.8 1227.1L878.8 1290.4L879.8 1339.1L880.8 1358.5L881.4 1346.6L882.1 1318.0L882.7 1283.9L883.4 1255.4L884.0 1243.4L884.9 1255.5L885.9 1282.2L886.8 1308.9L887.8 1321.1L888.7 1304.7L889.7 1288.3L890.6 1303.6L891.4 1332.0L892.2 1347.3L893.1 1333.0L893.9 1297.4L894.7 1251.0L895.6 1204.7L896.4 1169.0L897.2 1154.8L897.9 1167.7L898.7 1200.1L899.4 1242.3L900.1 1284.4L900.8 1316.9L901.5 1329.8L903.4 1315.3L905.2 1300.8L906.7 1310.7L908.2 1329.7L909.4 1349.1L910.5 1375.3L911.7 1402.0L912.8 1422.6L914.0 1431.0L914.5 1419.3L915.0 1389.5L915.5 1349.8L916.0 1307.9L916.5 1271.9L917.0 1249.8L918.2 1220.9L919.5 1200.2L920.7 1192.2L923.7 1211.2L925.7 1205.9L926.4 1215.6L927.0 1239.7L927.7 1271.0L928.4 1302.3L929.0 1326.4L929.7 1336.1L930.6 1326.4L931.5 1302.2L932.4 1270.8L933.4 1239.3L934.3 1215.1L935.2 1205.4L935.9 1219.6L936.7 1255.2L937.4 1301.3L938.2 1347.5L938.9 1383.0L939.7 1397.2L940.1 1388.1L940.4 1365.1L940.8 1335.3L941.2 1305.5L941.6 1282.5L941.9 1273.4L942.5 1283.4L943.0 1308.4L943.6 1340.9L944.1 1373.4L944.6 1398.5L945.2 1408.5L945.9 1394.8L946.7 1364.6L947.4 1334.5L948.2 1320.8L948.5 1332.7L948.8 1362.3L949.2 1400.8L949.5 1439.4L949.8 1469.0L950.2 1480.9L950.7 1470.1L951.3 1443.3L951.8 1408.3L952.3 1373.4L952.9 1346.5L953.4 1335.8L954.2 1349.9L954.9 1380.9L955.7 1411.9L956.4 1426.0L956.8 1415.9L957.2 1390.9L957.7 1358.4L958.1 1325.9L958.5 1300.8L958.9 1290.8L960.2 1313.5L961.4 1336.1L962.2 1320.1L963.1 1290.5L963.9 1274.6L964.9 1285.2L965.9 1310.3L966.9 1340.3L967.9 1365.5L968.9 1376.0L969.5 1366.9L970.1 1344.2L970.8 1314.7L971.4 1285.2L972.0 1262.5L972.6 1253.4L974.1 1265.1L975.6 1286.9L977.1 1298.6L977.7 1286.4L978.3 1259.5L978.8 1232.6L979.4 1220.4L980.9 1231.6L982.4 1257.4L983.9 1286.1L984.9 1307.2L985.9 1330.8L986.9 1349.7L988.4 1371.1L989.9 1388.7L991.4 1396.0L991.8 1386.1L992.2 1361.3L992.6 1329.1L993.0 1296.8L993.5 1272.0L993.9 1262.1L995.1 1275.6L996.4 1305.3L997.6 1335.0L998.9 1348.6L999.3 1338.3L999.7 1312.6L1000.1 1279.1L1000.5 1245.7L1000.9 1220.0L1001.4 1209.7L1002.0 1218.4L1002.6 1240.2L1003.2 1268.5L1003.9 1296.8L1004.5 1318.6L1005.1 1327.3L1005.7 1313.4L1006.4 1282.9L1007.0 1252.3L1007.6 1238.4L1008.3 1248.4L1009.1 1272.3L1009.8 1300.9L1010.6 1324.8L1011.3 1334.8L1011.9 1324.3L1012.4 1297.8L1013.0 1263.5L1013.5 1229.2L1014.1 1202.8L1014.6 1192.2L1015.6 1206.2L1016.6 1232.2L1017.6 1246.2L1018.4 1231.7L1019.3 1204.9L1020.1 1190.5L1021.1 1209.5L1022.2 1257.0L1023.2 1318.8L1024.2 1380.6L1025.3 1428.2L1026.3 1447.2L1027.2 1430.8L1028.0 1389.8L1028.8 1336.5L1029.7 1283.3L1030.5 1242.3L1031.3 1225.9L1032.7 1243.5L1034.1 1261.2L1034.8 1249.8L1035.6 1224.8L1036.3 1199.8L1037.1 1188.5L1037.6 1202.2L1038.2 1236.4L1038.8 1281.0L1039.4 1325.5L1040.0 1359.8L1040.6 1373.5L1041.2 1363.1L1041.9 1338.3L1042.5 1308.6L1043.2 1283.8L1043.8 1273.4L1044.4 1282.3L1045.1 1304.8L1045.7 1334.1L1046.3 1363.3L1046.9 1385.8L1047.6 1394.7L1048.2 1380.9L1048.8 1350.3L1049.4 1319.7L1050.0 1305.8L1050.8 1317.4L1051.5 1342.8L1052.3 1368.2L1053.0 1379.8L1053.6 1370.6L1054.1 1347.6L1054.7 1317.8L1055.2 1288.0L1055.7 1265.1L1056.3 1255.9L1057.9 1269.8L1059.5 1283.6L1060.1 1274.6L1060.7 1252.2L1061.3 1222.9L1061.9 1193.7L1062.4 1171.2L1063.0 1162.2L1064.6 1180.1L1066.2 1224.8L1067.8 1282.9L1069.4 1340.9L1070.9 1385.6L1072.5 1403.5L1073.3 1390.2L1074.1 1360.9L1075.0 1331.6L1075.8 1318.3L1076.8 1332.0L1077.8 1357.4L1078.8 1371.0L1079.4 1350.9L1080.0 1330.8L1080.9 1343.1L1081.9 1370.3L1082.8 1397.4L1083.7 1409.7L1085.6 1397.0L1087.5 1369.6L1088.3 1349.1L1089.2 1317.6L1090.0 1281.8L1090.8 1248.2L1091.7 1223.2L1092.5 1213.4L1094.1 1220.6L1095.8 1239.2L1097.5 1264.8L1098.1 1283.3L1098.7 1310.6L1099.4 1335.3L1100.0 1346.1L1101.8 1332.8L1103.7 1319.5L1104.4 1331.5L1105.0 1360.1L1105.7 1394.2L1106.3 1422.7L1107.0 1434.7L1107.9 1417.5L1108.8 1374.6L1109.7 1318.8L1110.6 1263.0L1111.5 1220.1L1112.5 1202.9L1113.3 1212.4L1114.1 1236.2L1115.0 1267.0L1115.8 1297.9L1116.6 1321.6L1117.5 1331.1L1118.0 1322.0L1118.5 1299.3L1119.0 1269.8L1119.5 1240.2L1120.0 1217.5L1120.4 1208.4L1121.1 1220.5L1121.7 1249.4L1122.4 1283.9L1123.0 1312.7L1123.7 1324.8L1124.7 1312.3L1125.8 1280.9L1126.8 1240.2L1127.9 1199.4L1128.9 1168.0L1129.9 1155.5L1130.6 1165.7L1131.2 1191.3L1131.8 1224.6L1132.4 1257.8L1133.1 1283.4L1133.7 1293.6L1136.7 1270.9L1137.5 1281.5L1138.3 1307.0L1139.1 1337.4L1139.9 1362.8L1140.7 1373.5L1141.5 1364.5L1142.3 1342.1L1143.0 1312.8L1143.8 1283.6L1144.6 1261.1L1145.4 1252.1L1147.1 1267.1L1148.7 1294.9L1150.4 1309.9L1150.8 1298.6L1151.2 1271.7L1151.6 1239.6L1152.0 1212.7L1152.4 1201.4L1153.3 1213.3L1154.3 1239.4L1155.2 1265.5L1156.2 1277.4L1157.2 1264.3L1158.3 1235.4L1159.3 1206.6L1160.4 1193.5L1160.9 1204.0L1161.5 1230.4L1162.0 1264.8L1162.6 1299.1L1163.1 1325.5L1163.6 1336.1L1164.4 1322.4L1165.1 1292.2L1165.9 1262.1L1166.6 1248.4L1167.5 1262.5L1168.3 1293.5L1169.1 1324.5L1169.9 1338.6L1170.9 1329.8L1172.0 1307.9L1173.0 1279.5L1174.0 1251.1L1175.1 1229.2L1176.1 1220.4L1177.4 1231.3L1178.6 1257.2L1179.9 1288.1L1181.1 1314.0L1182.4 1324.8L1184.2 1312.8L1186.0 1290.4L1187.9 1278.4L1190.7 1294.7L1193.6 1311.1L1194.4 1302.3L1195.3 1280.5L1196.1 1252.0L1196.9 1223.6L1197.8 1201.7L1198.6 1193.0L1199.3 1208.5L1200.0 1247.4L1200.7 1298.0L1201.4 1348.5L1202.1 1387.4L1202.8 1403.0L1204.1 1391.5L1205.3 1362.9L1206.6 1325.7L1207.8 1288.5L1209.1 1259.8L1210.3 1248.4L1211.8 1255.7L1213.3 1276.1L1214.8 1307.2L1215.2 1322.5L1215.5 1348.4L1215.8 1379.0L1216.2 1408.3L1216.5 1430.3L1216.8 1438.9L1218.0 1433.4L1219.2 1418.8L1220.4 1398.0L1221.6 1374.0L1222.8 1349.7L1223.6 1328.8L1224.4 1302.7L1225.3 1278.6L1226.1 1263.4L1227.9 1250.6L1229.8 1239.8L1231.5 1217.3L1233.1 1189.8L1234.8 1176.5L1236.5 1183.2L1238.1 1200.6L1239.8 1224.8L1240.4 1241.5L1241.0 1267.7L1241.6 1295.8L1242.2 1318.2L1242.8 1327.3L1244.1 1313.3L1245.5 1287.3L1246.8 1273.4L1247.8 1288.3L1248.8 1316.1L1249.8 1331.1L1250.6 1319.6L1251.4 1294.5L1252.2 1269.3L1253.0 1257.9L1254.1 1268.9L1255.2 1295.3L1256.3 1326.8L1257.4 1353.2L1258.5 1364.3L1259.3 1350.7L1260.1 1320.7L1261.0 1290.7L1261.8 1277.1L1263.9 1294.1L1266.0 1311.1L1267.6 1291.0L1269.3 1270.9L1270.0 1282.8L1270.8 1309.1L1271.5 1335.4L1272.3 1347.3L1273.3 1338.2L1274.3 1315.5L1275.4 1286.0L1276.4 1256.5L1277.5 1233.8L1278.5 1224.7L1279.5 1234.3L1280.6 1258.4L1281.6 1289.7L1282.7 1321.1L1283.7 1345.2L1284.7 1354.8L1285.3 1344.2L1285.9 1319.1L1286.5 1289.1L1287.1 1263.9L1287.7 1253.4L1289.4 1266.0L1291.0 1278.6L1291.5 1263.6L1292.0 1230.4L1292.5 1197.3L1293.0 1182.2L1294.0 1187.9L1295.0 1203.0L1296.0 1224.5L1297.0 1249.4L1298.0 1274.8L1298.6 1294.8L1299.2 1321.2L1299.8 1347.8L1300.4 1368.3L1301.0 1376.5L1302.1 1358.8L1303.1 1326.0L1304.2 1308.3L1305.1 1323.9L1305.9 1352.9L1306.7 1368.5L1307.2 1357.7L1307.6 1332.0L1308.1 1301.2L1308.5 1275.4L1309.0 1264.6L1309.7 1276.1L1310.5 1303.4L1311.2 1336.0L1312.0 1363.3L1312.7 1374.8L1314.3 1362.8L1316.0 1350.8L1317.0 1363.8L1318.1 1388.0L1319.2 1401.0L1320.0 1386.4L1320.7 1354.4L1321.4 1322.4L1322.2 1307.8L1323.0 1320.0L1323.9 1350.4L1324.7 1390.0L1325.5 1429.5L1326.4 1460.0L1327.2 1472.1L1327.7 1457.7L1328.3 1421.6L1328.8 1374.6L1329.4 1327.7L1329.9 1291.5L1330.4 1277.1L1331.5 1290.8L1332.6 1320.9L1333.6 1351.1L1334.7 1364.8L1335.8 1350.3L1337.0 1314.2L1338.2 1267.3L1339.3 1220.3L1340.5 1184.2L1341.7 1169.7L1342.5 1186.5L1343.3 1228.4L1344.2 1282.9L1345.0 1337.3L1345.8 1379.2L1346.7 1396.0L1347.5 1382.1L1348.3 1347.2L1349.2 1302.0L1350.0 1256.7L1350.8 1221.9L1351.7 1207.9L1352.9 1220.4L1354.2 1251.6L1355.4 1292.2L1356.7 1332.8L1357.9 1364.0L1359.2 1376.5L1359.9 1367.0L1360.6 1343.3L1361.3 1312.5L1362.0 1281.6L1362.7 1257.9L1363.4 1248.4L1364.6 1263.0L1365.9 1290.2L1367.1 1304.9L1368.1 1290.5L1369.1 1264.0L1370.1 1249.6L1370.9 1260.6L1371.7 1286.7L1372.5 1317.8L1373.3 1343.9L1374.1 1354.8L1374.9 1340.4L1375.6 1308.8L1376.4 1277.2L1377.1 1262.9L1377.8 1271.9L1378.5 1294.5L1379.3 1323.8L1380.0 1353.2L1380.7 1375.7L1381.4 1384.8L1382.1 1376.1L1382.9 1354.4L1383.6 1326.2L1384.4 1298.0L1385.1 1276.3L1385.9 1267.6L1387.6 1280.1L1389.2 1307.5L1390.9 1334.9L1392.6 1347.3L1393.7 1337.6L1394.8 1313.4L1395.9 1282.0L1396.9 1250.5L1398.0 1226.4L1399.1 1216.7L1400.8 1226.0L1402.4 1248.1L1404.1 1274.8L1405.1 1298.7L1406.1 1327.0L1407.1 1340.6L1408.1 1323.8L1409.1 1292.6L1410.1 1275.9L1411.2 1288.9L1412.3 1313.1L1413.3 1326.1L1414.1 1315.7L1414.8 1290.8L1415.6 1261.2L1416.3 1236.3L1417.1 1225.9L1417.9 1237.2L1418.7 1265.3L1419.6 1302.0L1420.4 1338.6L1421.2 1366.7L1422.1 1378.0L1423.2 1368.9L1424.3 1346.2L1425.4 1316.7L1426.6 1287.2L1427.7 1264.5L1428.8 1255.4L1429.9 1266.1L1430.9 1293.0L1431.9 1327.9L1433.0 1362.9L1434.0 1389.7L1435.1 1400.5L1436.3 1392.4L1437.6 1372.1L1438.8 1345.7L1440.0 1319.3L1441.3 1299.0L1442.5 1290.8L1443.4 1310.0L1444.2 1345.6L1445.0 1364.8L1446.2 1354.9L1447.4 1330.1L1448.5 1297.8L1449.7 1265.6L1450.9 1240.8L1452.0 1230.9L1453.0 1249.1L1454.0 1282.9L1455.0 1301.1L1456.5 1290.9L1458.0 1266.5L1459.5 1237.3L1461.0 1212.9L1462.5 1202.7L1463.5 1212.3L1464.4 1236.3L1465.4 1267.5L1466.4 1298.7L1467.3 1322.7L1468.3 1332.3L1469.4 1324.3L1470.5 1304.4L1471.6 1278.5L1472.8 1252.6L1473.9 1232.6L1475.0 1224.7L1475.8 1233.2L1476.7 1254.5L1477.5 1282.2L1478.3 1310.0L1479.2 1331.3L1480.0 1339.8L1481.1 1329.0L1482.2 1305.3L1483.4 1281.6L1484.5 1270.9L1486.5 1283.6L1489.0 1268.4L1490.3 1277.9L1491.7 1300.8L1493.0 1328.1L1494.4 1351.0L1495.7 1360.5L1497.4 1350.9L1499.0 1327.9L1500.7 1300.5L1502.3 1277.5L1504.0 1267.9L1506.0 1279.4L1508.0 1300.8L1510.0 1312.3L1511.6 1302.7L1513.2 1281.6L1514.8 1260.5L1516.4 1250.9L1517.3 1262.0L1518.2 1286.6L1519.1 1311.2L1519.9 1322.3L1521.3 1310.4L1522.6 1288.3L1523.9 1276.4L1525.7 1292.5L1527.4 1308.6L1529.9 1284.6L1531.9 1304.3L1533.9 1324.1L1535.3 1310.0L1536.8 1283.7L1538.2 1269.6L1539.9 1279.8L1541.5 1302.2L1543.2 1324.6L1544.9 1334.8L1546.5 1324.6L1548.0 1302.2L1549.6 1279.8L1551.2 1269.6L1552.3 1282.0L1553.4 1309.3L1554.5 1336.6L1555.6 1349.1L1557.0 1340.2L1558.3 1319.8L1559.7 1296.8L1561.0 1280.3L1563.3 1266.8L1565.6 1254.8L1567.9 1233.1L1570.2 1218.9L1572.7 1229.5L1575.3 1242.0L1578.3 1245.1L1582.2 1262.4L1585.5 1263.5L1587.3 1284.3L1589.0 1304.7L1590.3 1291.1L1591.6 1277.5L1593.6 1289.4L1596.2 1278.8L1597.5 1296.2L1598.7 1313.6L1601.3 1304.2L1604.3 1327.1L1606.4 1318.6L1608.5 1299.7L1610.6 1280.9L1612.7 1272.4L1614.9 1283.4L1617.0 1303.9L1619.1 1314.9L1621.0 1301.9L1622.9 1289.0L1628.0 1302.1L1633.1 1291.5L1635.7 1295.8L1639.5 1290.2L1640.8 1304.7L1643.7 1294.0L1646.6 1283.3L1649.4 1290.2L1652.2 1297.0L1654.8 1292.8L1658.3 1301.0L1661.9 1309.3L1666.2 1296.6L1670.1 1295.8L1674.1 1292.0L1678.2 1289.0L1682.4 1294.3L1686.6 1299.6L1690.4 1296.2L1694.3 1292.8L1699.4 1293.2L1704.5 1296.1" clip-path="url(#clip-a3)" fill="none" stroke="#000" stroke-width="7.6" stroke-linejoin="round" stroke-linecap="round"/>
<g fill="#000">
<text transform="translate(267.0 366.2) scale(1.0000 1.0400)" font-size="68" text-anchor="end">−0.05</text>
<text transform="translate(267.0 472.0) scale(1.0000 1.0400)" font-size="68" text-anchor="end">−0.10</text>
<text transform="translate(300.0 517.5) scale(1.0000 1.0400)" font-size="68" text-anchor="middle">0</text>
<text transform="translate(650.6 517.5) scale(1.0000 1.0400)" font-size="68" text-anchor="middle">5</text>
<text transform="translate(1001.2 517.5) scale(1.0000 1.0400)" font-size="68" text-anchor="middle">10</text>
<text transform="translate(1351.8 517.5) scale(1.0000 1.0400)" font-size="68" text-anchor="middle">15</text>
<text transform="translate(1702.3 517.5) scale(1.0000 1.0400)" font-size="68" text-anchor="middle">20</text>
<text transform="translate(2052.9 517.5) scale(1.0000 1.0400)" font-size="68" text-anchor="middle">25</text>
<text transform="translate(2403.5 517.5) scale(1.0000 1.0400)" font-size="68" text-anchor="middle">30</text>
<text transform="translate(2384.0 109.5) scale(1.0000 1.0300)" font-size="68" text-anchor="end" font-weight="bold">RSN 746</text>
<text transform="translate(267.0 574.5) scale(1.0000 1.0400)" font-size="68" text-anchor="end">0.10</text>
<text transform="translate(267.0 680.2) scale(1.0000 1.0400)" font-size="68" text-anchor="end">0.05</text>
<text transform="translate(267.0 786.0) scale(1.0000 1.0400)" font-size="68" text-anchor="end">0.00</text>
<text transform="translate(267.0 891.8) scale(1.0000 1.0400)" font-size="68" text-anchor="end">−0.05</text>
<text transform="translate(267.0 997.5) scale(1.0000 1.0400)" font-size="68" text-anchor="end">−0.10</text>
<text transform="translate(300.0 1045.0) scale(1.0000 1.0400)" font-size="68" text-anchor="middle">0</text>
<text transform="translate(650.6 1045.0) scale(1.0000 1.0400)" font-size="68" text-anchor="middle">5</text>
<text transform="translate(1001.2 1045.0) scale(1.0000 1.0400)" font-size="68" text-anchor="middle">10</text>
<text transform="translate(1351.8 1045.0) scale(1.0000 1.0400)" font-size="68" text-anchor="middle">15</text>
<text transform="translate(1702.3 1045.0) scale(1.0000 1.0400)" font-size="68" text-anchor="middle">20</text>
<text transform="translate(2052.9 1045.0) scale(1.0000 1.0400)" font-size="68" text-anchor="middle">25</text>
<text transform="translate(2403.5 1045.0) scale(1.0000 1.0400)" font-size="68" text-anchor="middle">30</text>
<text transform="translate(2381.5 634.5) scale(1.0050 1.0300)" font-size="68" text-anchor="end" font-weight="bold">RSN 983</text>
<text transform="translate(267.0 1104.0) scale(1.0000 1.0400)" font-size="68" text-anchor="end">0.10</text>
<text transform="translate(267.0 1210.0) scale(1.0000 1.0400)" font-size="68" text-anchor="end">0.05</text>
<text transform="translate(267.0 1316.0) scale(1.0000 1.0400)" font-size="68" text-anchor="end">0.00</text>
<text transform="translate(267.0 1422.0) scale(1.0000 1.0400)" font-size="68" text-anchor="end">−0.05</text>
<text transform="translate(267.0 1528.0) scale(1.0000 1.0400)" font-size="68" text-anchor="end">−0.10</text>
<text transform="translate(300.0 1577.5) scale(1.0000 1.0400)" font-size="68" text-anchor="middle">0</text>
<text transform="translate(650.6 1577.5) scale(1.0000 1.0400)" font-size="68" text-anchor="middle">5</text>
<text transform="translate(1001.2 1577.5) scale(1.0000 1.0400)" font-size="68" text-anchor="middle">10</text>
<text transform="translate(1351.8 1577.5) scale(1.0000 1.0400)" font-size="68" text-anchor="middle">15</text>
<text transform="translate(1702.3 1577.5) scale(1.0000 1.0400)" font-size="68" text-anchor="middle">20</text>
<text transform="translate(2052.9 1577.5) scale(1.0000 1.0400)" font-size="68" text-anchor="middle">25</text>
<text transform="translate(2403.5 1577.5) scale(1.0000 1.0400)" font-size="68" text-anchor="middle">30</text>
<text transform="translate(2377.0 1165.5) scale(1.0130 1.0300)" font-size="68" text-anchor="end" font-weight="bold">Artificial Wave</text>
<text transform="translate(93.0 764.5) rotate(-90)" font-size="68" text-anchor="middle" font-weight="bold">Acceleration (g)</text>
<text transform="translate(1352.0 1659.0)" font-size="68" text-anchor="middle" font-weight="bold">Time (s)</text>
<text transform="translate(1237.0 1754.5)" font-size="73" text-anchor="middle" font-weight="bold">(a)</text>
</g>
<g stroke="#000" fill="none">
<path d="M260.50 1893.50L275.50 1893.50" stroke-width="4.0"/>
<path d="M260.50 1967.50L289.50 1967.50" stroke-width="4.0"/>
<path d="M260.50 2041.50L275.50 2041.50" stroke-width="4.0"/>
<path d="M260.50 2115.50L289.50 2115.50" stroke-width="4.0"/>
<path d="M260.50 2189.50L275.50 2189.50" stroke-width="4.0"/>
<path d="M475.46 2263.50L475.46 2248.50" stroke-width="4.0"/>
<path d="M690.42 2263.50L690.42 2234.50" stroke-width="4.0"/>
<path d="M905.38 2263.50L905.38 2248.50" stroke-width="4.0"/>
<path d="M1120.34 2263.50L1120.34 2234.50" stroke-width="4.0"/>
<path d="M1335.30 2263.50L1335.30 2248.50" stroke-width="4.0"/>
<path d="M1550.26 2263.50L1550.26 2234.50" stroke-width="4.0"/>
<path d="M1765.22 2263.50L1765.22 2248.50" stroke-width="4.0"/>
<path d="M1980.18 2263.50L1980.18 2234.50" stroke-width="4.0"/>
<path d="M2195.14 2263.50L2195.14 2248.50" stroke-width="4.0"/>
<path d="M260.50 2445.40L275.50 2445.40" stroke-width="4.0"/>
<path d="M260.50 2519.40L289.50 2519.40" stroke-width="4.0"/>
<path d="M260.50 2593.40L275.50 2593.40" stroke-width="4.0"/>
<path d="M260.50 2667.40L289.50 2667.40" stroke-width="4.0"/>
<path d="M260.50 2741.40L275.50 2741.40" stroke-width="4.0"/>
<path d="M475.46 2815.40L475.46 2800.40" stroke-width="4.0"/>
<path d="M690.42 2815.40L690.42 2786.40" stroke-width="4.0"/>
<path d="M905.38 2815.40L905.38 2800.40" stroke-width="4.0"/>
<path d="M1120.34 2815.40L1120.34 2786.40" stroke-width="4.0"/>
<path d="M1335.30 2815.40L1335.30 2800.40" stroke-width="4.0"/>
<path d="M1550.26 2815.40L1550.26 2786.40" stroke-width="4.0"/>
<path d="M1765.22 2815.40L1765.22 2800.40" stroke-width="4.0"/>
<path d="M1980.18 2815.40L1980.18 2786.40" stroke-width="4.0"/>
<path d="M2195.14 2815.40L2195.14 2800.40" stroke-width="4.0"/>
<path d="M260.50 3002.40L275.50 3002.40" stroke-width="4.0"/>
<path d="M260.50 3076.40L289.50 3076.40" stroke-width="4.0"/>
<path d="M260.50 3150.40L275.50 3150.40" stroke-width="4.0"/>
<path d="M260.50 3224.40L289.50 3224.40" stroke-width="4.0"/>
<path d="M260.50 3298.40L275.50 3298.40" stroke-width="4.0"/>
<path d="M475.46 3372.40L475.46 3357.40" stroke-width="4.0"/>
<path d="M690.42 3372.40L690.42 3343.40" stroke-width="4.0"/>
<path d="M905.38 3372.40L905.38 3357.40" stroke-width="4.0"/>
<path d="M1120.34 3372.40L1120.34 3343.40" stroke-width="4.0"/>
<path d="M1335.30 3372.40L1335.30 3357.40" stroke-width="4.0"/>
<path d="M1550.26 3372.40L1550.26 3343.40" stroke-width="4.0"/>
<path d="M1765.22 3372.40L1765.22 3357.40" stroke-width="4.0"/>
<path d="M1980.18 3372.40L1980.18 3343.40" stroke-width="4.0"/>
<path d="M2195.14 3372.40L2195.14 3357.40" stroke-width="4.0"/>
</g>
<rect x="258.10" y="1817.10" width="4.80" height="448.80" fill="#000" stroke="none"/>
<rect x="2408.20" y="1817.10" width="3.80" height="448.80" fill="#000" stroke="none"/>
<rect x="258.10" y="1817.10" width="2153.90" height="4.80" fill="#000" stroke="none"/>
<rect x="258.10" y="2261.10" width="2153.90" height="4.80" fill="#000" stroke="none"/>
<path d="M265.3 2055.4L259.1 2055.5L258.3 2056.0L258.3 2261.7L259.1 2262.1L259.8 2262.2L266.4 2262.1L267.5 2261.4L268.1 2260.4L268.2 2259.8L268.7 2246.6L269.2 2181.1L270.3 2207.9L272.1 2219.0L272.7 2220.1L273.2 2220.6L276.1 2221.5L277.8 2225.7L278.7 2226.8L280.1 2227.2L282.5 2226.8L283.6 2226.2L284.2 2225.5L286.1 2218.2L286.5 2217.5L293.8 2215.8L294.5 2215.3L295.1 2214.4L296.7 2180.4L297.1 2175.9L301.4 2174.5L302.5 2173.8L302.9 2173.3L303.2 2172.2L303.4 2168.6L303.8 2185.2L305.8 2203.2L307.8 2211.0L308.8 2212.0L311.4 2213.3L311.8 2215.7L312.8 2246.1L313.0 2247.2L318.5 2253.5L319.5 2254.2L320.9 2254.3L321.8 2254.0L324.0 2251.9L324.6 2251.0L325.2 2244.5L326.2 2214.0L326.8 2218.9L328.3 2239.7L329.0 2240.8L330.0 2241.3L330.7 2241.4L333.8 2241.4L334.6 2241.1L335.4 2240.4L335.9 2239.1L337.2 2227.5L337.8 2205.7L338.3 2214.3L338.8 2217.7L340.7 2222.4L341.1 2223.0L342.1 2223.7L343.4 2223.9L345.8 2222.8L346.6 2221.4L347.7 2193.0L348.1 2191.1L350.6 2188.3L351.1 2187.4L351.2 2186.7L352.2 2154.9L352.8 2166.7L353.9 2176.5L354.5 2177.4L355.6 2178.0L359.1 2178.1L359.8 2178.0L360.8 2177.5L361.6 2176.2L363.2 2153.5L364.2 2130.4L365.9 2129.9L366.3 2133.3L367.7 2172.3L368.1 2173.4L368.9 2174.2L373.4 2175.8L373.8 2178.5L374.8 2197.9L376.8 2208.0L378.8 2237.4L379.2 2241.1L379.5 2241.9L381.6 2246.1L382.1 2246.9L383.3 2247.5L386.9 2248.2L388.2 2253.8L389.1 2254.9L390.5 2255.3L393.3 2255.3L394.7 2254.8L395.6 2253.7L398.0 2248.3L402.8 2246.5L403.7 2245.4L404.1 2243.4L405.2 2184.7L406.7 2165.2L406.9 2165.0L408.5 2164.5L408.8 2165.6L411.3 2208.7L411.7 2209.9L413.4 2212.5L414.2 2213.0L415.4 2213.2L416.2 2213.0L417.9 2212.2L420.9 2208.6L422.7 2207.9L423.2 2207.5L423.7 2206.7L424.2 2203.8L427.2 2164.3L427.4 2163.5L430.3 2164.1L432.2 2240.9L432.7 2242.2L433.5 2243.0L434.3 2243.3L435.2 2243.4L436.4 2243.0L443.4 2235.3L443.7 2234.1L446.2 2153.9L446.6 2150.0L446.8 2149.9L447.8 2187.0L448.1 2188.2L449.9 2190.9L450.3 2192.4L451.8 2222.6L452.1 2223.7L452.6 2224.4L453.7 2225.0L455.8 2225.4L456.9 2225.2L462.1 2222.7L465.5 2223.4L466.7 2223.3L467.2 2223.0L468.0 2222.3L470.2 2219.0L471.8 2232.8L472.3 2234.6L473.0 2235.6L476.1 2236.9L477.4 2237.1L478.8 2236.5L480.2 2235.1L482.5 2240.8L483.1 2241.7L484.3 2242.4L487.1 2242.4L488.4 2242.1L489.3 2241.2L491.5 2235.1L493.0 2239.2L497.1 2245.6L497.7 2246.3L504.5 2249.3L516.7 2248.4L520.1 2255.6L523.8 2259.8L524.6 2260.2L525.7 2260.3L526.9 2259.8L527.8 2258.8L531.6 2249.4L539.8 2247.6L540.8 2247.1L541.6 2246.0L543.2 2217.4L547.0 2215.4L547.6 2214.7L548.2 2213.1L550.3 2235.0L552.2 2241.7L553.2 2242.6L554.4 2243.0L556.5 2242.6L557.6 2241.9L558.1 2241.3L558.4 2240.5L560.1 2231.3L560.5 2230.4L564.4 2229.7L564.8 2231.2L566.9 2252.8L570.0 2257.2L571.1 2257.7L574.9 2258.5L576.2 2264.2L577.1 2265.3L578.5 2265.7L582.0 2265.7L582.7 2265.4L583.4 2264.8L583.9 2263.6L585.1 2256.9L591.4 2257.5L592.5 2263.7L593.1 2264.8L593.8 2265.4L595.0 2265.7L596.7 2265.7L597.8 2265.4L598.5 2264.9L599.0 2264.0L599.2 2263.3L600.2 2242.6L600.6 2239.0L602.8 2239.0L604.1 2250.8L604.3 2251.6L605.1 2252.6L605.9 2253.0L610.4 2253.4L612.4 2264.2L613.3 2265.3L614.8 2265.7L618.3 2265.6L619.3 2265.0L619.8 2264.4L620.2 2263.2L621.6 2250.4L629.6 2250.0L631.1 2255.1L631.6 2256.1L632.0 2256.5L633.2 2257.0L641.2 2258.0L644.6 2261.3L645.4 2261.8L670.1 2265.7L2408.1 2265.9L2408.8 2265.8L2409.8 2265.2L2410.4 2264.5L2410.7 2263.4L2410.6 2261.9L2410.3 2261.1L2409.3 2260.2L2408.1 2259.9L1740.5 2259.8L1449.5 2259.4L1398.5 2259.7L1256.0 2258.1L1225.5 2258.6L1204.9 2256.6L1144.0 2257.6L1118.4 2255.6L1093.0 2256.6L1067.5 2256.1L1042.1 2256.6L1029.0 2255.1L1006.0 2254.0L991.1 2252.5L970.9 2249.5L970.0 2249.6L960.5 2251.5L949.4 2248.1L945.0 2249.1L938.4 2247.5L932.1 2249.0L927.7 2245.7L926.9 2245.3L919.8 2243.5L918.5 2243.7L912.8 2246.7L908.3 2251.1L906.4 2245.4L905.8 2244.4L900.1 2240.8L898.8 2240.4L898.0 2240.5L888.7 2243.4L883.6 2248.9L881.0 2247.2L879.6 2246.8L870.8 2249.2L862.4 2250.4L858.3 2245.4L850.3 2242.6L849.4 2242.4L832.8 2247.9L826.4 2250.4L821.4 2249.3L815.0 2250.9L809.3 2248.7L807.8 2248.6L800.6 2250.6L793.4 2254.1L786.9 2252.5L778.2 2254.2L772.6 2249.3L771.7 2248.7L771.0 2248.7L763.4 2250.7L756.5 2255.3L751.9 2251.4L750.6 2251.2L746.2 2251.6L741.9 2248.9L741.0 2248.5L728.5 2249.2L718.0 2250.4L711.0 2250.4L709.9 2247.6L709.2 2246.7L705.0 2244.6L703.7 2244.3L697.8 2246.5L692.4 2250.2L687.6 2247.9L684.2 2246.9L683.4 2246.8L680.4 2247.7L679.5 2248.2L677.1 2251.6L674.3 2251.7L674.1 2251.5L672.7 2243.1L672.4 2242.3L670.0 2237.9L666.7 2235.5L665.4 2235.1L664.1 2235.4L658.9 2239.5L657.8 2234.0L657.5 2233.2L656.5 2232.3L654.3 2231.1L653.1 2230.8L652.0 2231.0L648.8 2232.7L648.1 2233.8L647.5 2236.0L646.2 2207.4L645.9 2206.4L645.4 2205.7L642.0 2203.8L641.1 2203.7L639.8 2204.1L637.5 2205.7L636.8 2206.9L635.3 2234.4L633.6 2233.1L631.6 2223.2L630.8 2222.1L628.1 2220.3L627.7 2218.5L626.7 2210.1L626.3 2208.9L625.4 2208.1L622.7 2206.7L621.6 2206.4L620.8 2206.6L617.3 2208.6L616.7 2209.6L616.0 2212.0L614.8 2203.0L614.5 2202.1L612.2 2199.7L611.2 2199.1L609.9 2199.0L608.1 2199.3L607.2 2185.7L606.9 2184.7L606.2 2183.8L604.2 2182.5L602.8 2182.0L601.4 2182.4L599.4 2183.7L598.6 2184.6L598.3 2185.3L597.3 2207.1L596.9 2209.0L594.5 2210.9L593.9 2212.6L592.8 2224.8L592.5 2225.7L590.2 2224.5L589.0 2224.5L585.9 2225.8L584.9 2226.7L584.3 2228.5L583.3 2236.5L581.2 2209.9L580.8 2209.1L579.8 2208.3L575.1 2207.3L574.7 2199.9L573.7 2165.1L573.3 2163.1L572.6 2162.0L570.9 2160.4L570.3 2160.0L569.3 2159.7L568.0 2160.0L566.5 2160.8L565.7 2161.6L565.4 2162.2L563.8 2197.3L561.8 2198.0L560.9 2198.7L558.7 2203.0L557.2 2202.3L555.6 2155.4L555.2 2154.5L552.7 2151.2L551.6 2150.4L549.6 2138.7L549.0 2137.9L548.3 2137.4L545.1 2136.5L543.9 2131.3L543.4 2130.5L541.5 2129.1L540.2 2128.7L538.9 2129.0L536.9 2130.6L536.3 2132.2L535.3 2145.4L533.8 2185.5L532.4 2208.2L530.8 2207.4L529.6 2207.3L528.5 2207.8L525.9 2209.9L525.3 2211.7L523.9 2221.1L522.9 2218.0L522.3 2217.1L521.3 2216.4L519.7 2215.9L518.2 2171.9L516.7 2155.5L516.3 2154.2L513.9 2152.3L512.7 2152.1L511.8 2152.3L509.6 2153.9L508.8 2155.0L505.8 2181.6L503.8 2190.8L501.2 2190.1L497.2 2086.9L497.0 2086.1L496.4 2085.0L494.9 2083.7L493.9 2083.2L493.1 2083.1L492.0 2083.5L488.6 2085.5L486.0 2089.7L483.8 2088.0L482.6 2087.5L481.2 2087.7L479.0 2088.9L478.3 2089.9L477.8 2092.1L476.9 2104.3L475.2 2103.3L474.2 2086.7L473.7 2083.1L472.8 2081.9L470.5 2080.8L469.7 2080.6L468.4 2080.9L466.9 2081.9L466.3 2083.3L465.3 2088.6L464.3 2100.8L463.9 2102.8L458.4 2102.0L456.2 2097.3L454.2 2033.2L453.9 2032.2L453.5 2031.5L450.6 2029.7L449.4 2029.6L448.8 2029.8L447.6 2030.3L446.7 2031.0L446.2 2032.2L445.8 2035.4L445.4 2036.2L443.9 2037.7L443.4 2039.3L442.3 2086.3L439.8 2087.4L439.1 2088.4L438.4 2090.0L437.1 2087.3L436.7 2083.2L435.1 2042.8L433.1 2039.4L431.8 2032.8L431.2 2031.6L428.7 2029.5L427.5 2029.0L426.4 2029.1L425.0 2029.6L424.3 2030.2L423.9 2031.0L423.3 2035.5L422.8 2054.8L422.3 2112.3L421.8 2128.6L418.7 2128.6L418.2 2115.4L417.2 2048.3L415.7 2001.5L415.3 1999.5L414.7 1998.5L412.3 1996.2L411.1 1995.8L410.2 1995.8L409.2 1996.4L407.7 1997.8L407.2 1999.1L406.8 2005.0L405.8 2049.1L404.8 2070.4L404.4 2071.9L402.2 2073.9L401.5 2074.9L401.2 2075.7L399.8 2087.7L399.0 2104.4L398.4 2103.6L396.4 2101.9L395.4 2101.5L394.8 2101.4L394.0 2101.5L392.3 2102.4L391.4 2103.3L391.1 2104.1L390.8 2106.2L388.3 2171.5L385.1 2173.6L383.2 2176.5L381.7 2155.3L380.2 2099.6L379.8 2098.4L379.2 2097.8L374.2 2095.3L373.2 2057.1L371.7 1970.0L371.6 1969.2L371.0 1968.2L369.3 1967.1L368.6 1966.8L367.2 1966.9L365.5 1967.8L364.6 1968.6L364.2 1969.8L363.3 1982.0L361.8 2012.0L358.3 2014.4L357.6 2015.2L357.3 2015.9L356.4 2034.5L355.7 2013.7L355.5 2012.7L355.0 2011.9L354.4 2011.4L352.8 2010.4L351.9 2010.2L350.7 2010.5L349.3 2011.4L348.4 2012.3L348.1 2013.0L347.8 2014.7L346.8 2029.7L345.9 2063.2L343.7 2017.0L342.2 1995.6L341.9 1994.6L341.5 1994.0L339.4 1992.6L338.2 1992.2L337.0 1992.5L335.5 1993.6L334.9 1994.2L334.3 1995.8L333.3 2003.6L332.8 2012.6L331.3 2095.5L330.1 2124.0L329.2 2121.7L327.7 2081.5L327.6 2080.9L327.1 2080.0L325.2 2078.6L324.7 2072.2L323.7 2050.1L322.7 1956.1L322.1 1948.1L321.3 1946.9L319.2 1945.2L318.7 1932.3L318.2 1892.3L317.2 1862.0L316.8 1859.4L316.3 1858.4L314.9 1857.1L313.7 1856.6L312.5 1856.8L310.4 1858.0L309.6 1858.9L309.3 1860.1L307.8 1943.0L307.3 1964.4L306.8 1969.3L298.6 1969.3L297.6 1947.6L296.9 1946.3L294.9 1945.0L293.7 1944.7L292.5 1945.0L291.1 1946.0L290.3 1947.2L289.8 1954.4L287.8 2033.5L286.1 2034.2L285.7 2029.1L285.2 2001.6L284.6 1992.0L284.0 1990.8L282.2 1989.5L281.1 1989.1L280.3 1989.1L279.3 1989.5L277.7 1990.7L276.8 1991.8L275.3 2000.3L274.9 2001.6L271.9 2004.6L271.4 2005.3L269.3 2016.7L266.3 2022.2Z" fill="#000" fill-rule="evenodd" stroke="none"/>
<rect x="258.10" y="2369.00" width="4.80" height="448.80" fill="#000" stroke="none"/>
<rect x="2408.20" y="2369.00" width="3.80" height="448.80" fill="#000" stroke="none"/>
<rect x="258.10" y="2369.00" width="2153.90" height="4.80" fill="#000" stroke="none"/>
<rect x="258.10" y="2813.00" width="2153.90" height="4.80" fill="#000" stroke="none"/>
<path d="M258.3 2816.6L259.9 2817.2L266.9 2817.2L267.6 2817.1L268.5 2816.6L269.0 2816.0L269.4 2815.0L270.7 2805.6L275.4 2804.6L276.1 2804.2L276.8 2803.2L277.2 2800.9L279.2 2767.2L281.3 2766.3L282.1 2765.3L283.3 2758.0L284.8 2777.7L286.0 2782.2L286.6 2783.1L287.2 2783.6L288.3 2784.0L289.8 2784.0L290.5 2783.9L291.5 2783.4L292.3 2782.3L296.7 2746.0L298.7 2712.2L300.6 2703.8L304.9 2703.8L306.3 2756.6L307.3 2786.5L307.8 2793.5L309.3 2799.4L309.7 2799.9L310.8 2800.5L312.4 2800.6L313.1 2800.5L314.0 2800.0L314.8 2798.9L316.2 2787.6L316.7 2780.0L318.2 2738.4L318.6 2735.7L321.9 2735.7L324.5 2778.1L326.2 2782.4L326.9 2783.4L328.1 2784.0L330.1 2784.0L330.9 2783.6L331.8 2782.5L332.9 2776.7L334.2 2778.8L334.7 2779.2L335.8 2779.5L338.4 2779.0L339.2 2778.3L339.6 2777.7L341.2 2770.7L343.1 2753.5L344.5 2755.4L345.1 2755.8L346.2 2756.0L347.7 2755.9L348.8 2755.6L349.5 2755.0L350.0 2754.0L352.2 2743.8L353.7 2700.7L354.6 2699.7L354.8 2700.7L356.3 2722.0L358.3 2766.0L358.8 2770.3L360.8 2776.5L361.3 2777.4L363.0 2779.2L364.2 2779.6L365.6 2779.4L367.3 2778.1L367.8 2777.5L368.3 2776.3L370.2 2734.0L370.4 2733.8L371.8 2788.8L372.4 2797.5L373.7 2806.5L374.2 2807.8L375.3 2808.6L377.1 2809.1L378.1 2809.0L379.2 2808.4L381.1 2804.8L381.7 2801.2L383.2 2780.7L385.4 2709.1L386.3 2747.3L386.8 2753.5L387.0 2754.3L387.4 2755.0L389.1 2756.3L390.0 2756.7L393.0 2756.7L394.1 2756.1L394.8 2755.0L397.0 2729.0L397.8 2772.8L398.3 2782.8L399.8 2795.8L400.1 2796.8L400.7 2797.7L401.3 2798.2L404.9 2799.2L406.0 2799.0L409.4 2797.3L410.4 2796.3L410.8 2795.1L412.7 2768.9L414.6 2759.7L419.3 2758.5L421.7 2756.3L424.4 2758.1L424.8 2759.6L427.3 2792.9L429.7 2814.9L430.0 2816.0L430.6 2816.6L431.5 2817.1L432.2 2817.2L436.9 2817.1L438.1 2816.4L438.7 2815.3L440.2 2773.9L441.1 2773.9L441.3 2774.7L442.8 2806.7L444.1 2815.1L444.6 2816.2L445.2 2816.7L446.6 2817.2L449.5 2817.1L450.5 2816.6L451.2 2815.6L451.7 2811.8L452.7 2776.9L453.2 2772.6L453.9 2772.6L456.3 2794.4L457.7 2804.2L458.4 2805.6L461.0 2807.5L462.0 2807.9L462.6 2807.9L463.7 2807.5L465.7 2806.2L466.7 2805.0L468.7 2791.5L470.2 2773.9L471.9 2773.9L473.8 2794.1L474.7 2796.0L476.0 2797.7L476.9 2798.4L477.6 2798.6L478.9 2798.5L481.6 2796.8L482.3 2796.1L484.4 2793.0L488.1 2792.9L489.3 2792.2L490.0 2790.9L491.6 2783.4L493.4 2794.2L494.3 2795.5L495.9 2796.5L497.3 2815.3L498.1 2816.6L499.1 2817.1L499.8 2817.2L503.4 2817.1L504.5 2816.4L505.2 2815.0L507.7 2782.8L508.9 2782.8L511.3 2805.0L513.1 2815.0L513.8 2816.4L514.8 2817.1L515.6 2817.2L520.5 2817.2L521.8 2816.9L522.4 2816.3L523.0 2815.2L524.1 2809.9L526.1 2810.8L527.5 2811.0L528.7 2810.4L531.7 2808.0L535.7 2802.3L537.2 2793.7L537.6 2792.4L538.3 2791.5L539.5 2799.7L540.2 2800.6L542.9 2802.7L543.3 2803.2L546.7 2815.4L547.3 2816.4L547.8 2816.8L549.2 2817.2L558.8 2817.2L560.0 2816.9L560.9 2816.1L561.2 2815.4L562.0 2809.3L563.3 2815.3L563.9 2816.3L564.4 2816.8L565.7 2817.2L570.3 2817.2L571.8 2816.7L572.6 2815.8L572.9 2815.0L575.2 2799.0L578.2 2797.0L581.4 2800.2L582.8 2815.4L583.6 2816.6L584.6 2817.1L585.3 2817.2L587.7 2817.1L588.7 2816.4L589.2 2815.6L591.6 2801.0L595.4 2802.9L599.0 2815.3L599.6 2816.4L600.9 2817.1L605.1 2817.1L606.3 2816.4L607.0 2815.1L608.2 2803.7L611.0 2805.8L612.7 2809.1L613.6 2810.0L614.4 2810.3L615.2 2810.4L617.2 2809.7L617.9 2809.1L618.4 2808.0L620.6 2797.0L622.5 2800.2L623.5 2800.9L625.5 2801.5L627.1 2801.6L630.0 2800.0L631.7 2814.9L632.2 2816.0L633.3 2816.9L634.1 2817.1L637.1 2817.1L637.9 2816.8L638.5 2816.3L639.1 2815.1L640.7 2808.2L642.2 2815.2L643.0 2816.5L644.0 2817.1L644.8 2817.2L648.0 2817.2L649.4 2816.7L650.2 2815.8L650.5 2815.0L652.2 2804.8L654.0 2805.8L655.5 2809.6L655.8 2810.1L656.6 2810.8L657.8 2811.2L663.4 2811.2L664.4 2816.4L665.4 2817.4L666.7 2817.8L668.0 2817.4L669.0 2816.4L670.1 2811.0L677.4 2811.0L678.4 2816.2L678.9 2817.0L680.1 2817.7L692.4 2817.8L693.5 2817.5L694.4 2816.8L694.8 2816.1L695.7 2809.6L698.0 2805.4L700.6 2805.4L703.0 2809.0L703.9 2809.6L706.9 2810.5L707.8 2816.2L708.7 2817.3L710.2 2817.8L716.2 2817.8L717.3 2817.5L717.8 2817.1L718.4 2816.4L718.7 2815.5L719.2 2809.7L725.4 2809.7L726.3 2816.2L726.9 2817.1L727.4 2817.5L728.7 2817.8L738.9 2817.8L740.1 2817.5L740.9 2816.7L741.3 2816.0L742.1 2809.8L746.4 2810.4L747.3 2816.2L748.2 2817.3L749.7 2817.8L2408.1 2817.8L2409.4 2817.5L2410.3 2816.6L2410.7 2815.8L2410.7 2813.6L2410.4 2812.4L2409.9 2811.7L2408.9 2811.1L2408.1 2811.0L1609.5 2810.9L1453.5 2810.0L1386.5 2810.5L1297.6 2810.5L1253.1 2810.0L1230.5 2808.7L1208.0 2809.1L1159.6 2807.4L1137.0 2808.3L1115.1 2808.7L1096.9 2807.8L1074.5 2809.1L1056.6 2808.7L1041.8 2807.0L1040.1 2806.3L1039.2 2806.1L1034.9 2806.1L1027.0 2807.1L1019.8 2806.7L1012.0 2808.6L1006.8 2807.4L999.0 2807.8L991.5 2806.2L981.5 2807.9L972.8 2808.6L968.8 2805.3L965.1 2803.3L963.8 2803.0L959.4 2804.2L954.5 2806.6L948.0 2805.0L940.4 2806.7L932.1 2807.8L928.4 2803.1L924.2 2800.9L923.3 2800.6L921.9 2800.8L917.3 2802.9L907.4 2806.6L907.1 2806.6L898.0 2805.4L895.3 2800.7L894.8 2800.1L892.3 2798.1L891.2 2797.6L889.8 2797.7L879.0 2801.5L868.4 2800.3L866.5 2797.4L865.7 2796.6L861.6 2795.3L860.7 2795.4L858.5 2796.2L857.5 2796.8L854.9 2800.8L852.4 2799.8L851.1 2799.7L847.3 2801.1L843.4 2803.1L836.1 2803.5L828.8 2802.8L825.6 2800.2L824.2 2799.7L821.2 2800.4L817.7 2802.9L813.1 2804.0L805.9 2802.1L799.7 2802.0L795.9 2798.0L792.5 2796.3L791.3 2796.1L786.3 2797.7L781.3 2799.1L777.6 2802.4L774.9 2799.1L771.7 2797.5L770.3 2797.2L769.4 2797.4L765.9 2799.1L761.8 2802.1L754.5 2802.8L748.9 2802.8L745.8 2798.8L742.8 2796.5L741.5 2796.3L738.1 2797.4L737.0 2798.1L734.0 2804.8L731.1 2801.9L727.6 2796.2L726.4 2795.2L721.7 2794.4L717.7 2792.4L716.8 2792.1L715.4 2792.4L711.4 2794.3L707.4 2793.9L704.6 2785.3L701.9 2782.9L701.4 2782.6L700.3 2782.3L699.1 2782.7L697.0 2784.0L694.0 2790.5L682.1 2798.8L679.1 2795.5L678.3 2795.1L677.6 2795.0L676.3 2795.4L670.6 2798.8L666.8 2794.9L665.7 2794.3L664.4 2794.2L660.8 2795.0L657.1 2790.4L655.1 2788.3L653.8 2787.6L652.4 2787.7L651.8 2788.0L651.0 2788.8L648.5 2793.6L646.9 2800.2L645.6 2797.0L644.8 2796.0L643.4 2795.5L640.8 2795.4L639.1 2793.7L638.7 2792.4L636.8 2777.4L636.3 2776.2L634.2 2773.7L633.3 2773.0L632.5 2772.7L629.0 2773.1L625.8 2772.7L623.5 2770.9L622.4 2770.5L621.0 2770.7L620.2 2771.1L617.6 2774.9L617.3 2775.7L615.7 2782.8L614.6 2778.4L613.8 2777.4L611.4 2775.5L610.2 2775.0L609.3 2775.1L606.3 2776.5L605.6 2777.6L601.0 2792.2L594.2 2783.2L590.0 2780.1L586.3 2775.3L582.5 2772.7L579.8 2770.0L578.6 2769.4L577.3 2769.4L576.6 2769.8L574.6 2771.2L573.7 2772.3L571.3 2778.1L569.2 2790.8L567.7 2786.5L565.7 2770.9L564.9 2769.7L562.4 2767.7L561.2 2767.2L559.7 2767.5L557.3 2768.9L556.7 2769.8L555.7 2772.6L552.7 2770.2L551.5 2770.0L550.3 2770.4L546.5 2774.1L545.3 2778.6L544.7 2774.8L544.0 2773.1L541.1 2770.8L539.8 2770.6L539.0 2770.8L535.1 2773.6L534.5 2774.3L532.1 2782.2L530.7 2780.8L529.2 2759.4L528.3 2758.2L526.4 2756.7L525.3 2756.2L524.3 2756.2L523.2 2756.8L520.5 2759.3L520.0 2760.1L519.3 2763.0L518.5 2775.1L515.1 2766.6L514.4 2766.0L512.2 2764.5L511.4 2764.2L510.7 2764.1L509.4 2764.5L506.7 2766.2L502.0 2770.9L501.2 2772.3L500.0 2778.7L498.2 2777.9L496.7 2760.5L496.0 2759.4L494.1 2757.8L493.5 2757.4L492.3 2757.2L490.9 2757.6L488.3 2759.4L487.5 2760.4L487.3 2761.3L485.9 2776.0L484.6 2775.4L482.6 2766.7L482.0 2765.9L479.5 2763.9L476.7 2760.5L474.2 2716.0L473.8 2712.6L473.6 2711.9L472.9 2710.9L470.9 2709.1L469.7 2708.6L468.2 2708.8L465.7 2710.0L465.1 2710.7L464.7 2711.8L462.8 2733.2L461.8 2763.1L461.4 2767.0L460.6 2766.5L460.2 2765.7L455.2 2747.3L452.7 2741.4L452.3 2740.8L451.4 2740.1L447.7 2739.4L445.3 2711.7L444.7 2710.3L441.7 2708.3L440.5 2708.1L439.3 2708.6L437.3 2710.2L436.8 2711.4L433.0 2745.8L432.7 2745.4L430.5 2734.4L430.2 2733.7L429.8 2733.1L428.8 2732.5L426.6 2732.3L424.9 2729.2L423.0 2727.4L421.8 2726.8L420.7 2726.8L420.1 2727.0L418.9 2727.6L418.0 2728.5L417.7 2729.3L416.4 2734.9L415.5 2732.5L413.0 2730.2L411.8 2729.9L410.9 2730.1L408.4 2731.8L408.0 2732.4L407.8 2733.3L407.1 2741.5L404.7 2712.9L403.2 2675.1L401.8 2648.5L401.4 2647.3L400.9 2646.8L397.4 2644.2L396.8 2644.0L395.6 2644.1L393.1 2645.8L392.7 2641.5L390.3 2590.5L389.9 2589.4L389.2 2588.7L386.5 2586.8L385.3 2586.4L384.0 2586.7L381.3 2588.6L380.5 2589.7L380.3 2590.6L378.8 2623.9L378.1 2649.7L376.2 2620.2L375.7 2619.3L373.9 2617.3L372.8 2616.6L371.9 2616.5L370.7 2616.8L370.1 2617.3L368.0 2619.5L367.4 2621.0L365.3 2651.2L363.8 2664.1L363.1 2678.8L361.2 2622.5L359.8 2593.1L359.3 2591.8L358.7 2591.2L356.2 2589.5L354.8 2589.1L354.1 2589.2L353.0 2589.8L350.5 2592.5L349.9 2593.4L349.3 2598.5L348.3 2619.5L345.7 2690.4L345.1 2689.5L343.2 2687.6L342.2 2687.0L341.5 2686.9L340.6 2687.0L339.6 2687.7L337.9 2689.6L337.4 2690.6L336.3 2714.2L334.3 2735.5L331.6 2734.6L331.2 2733.7L328.7 2706.7L326.9 2691.1L326.5 2689.9L325.9 2689.3L325.3 2689.0L323.7 2688.6L322.2 2664.4L320.7 2651.0L320.1 2649.9L318.3 2648.4L317.6 2648.2L316.5 2648.3L315.3 2648.9L313.8 2650.5L313.3 2651.7L311.9 2659.4L310.2 2660.2L308.7 2640.6L308.0 2639.4L305.7 2638.0L304.7 2619.7L304.3 2616.6L303.7 2615.4L302.5 2614.0L301.6 2613.4L300.8 2613.2L299.7 2613.4L299.0 2613.8L297.0 2616.3L296.8 2617.2L293.8 2693.6L292.8 2703.6L291.0 2732.1L290.2 2730.3L288.7 2718.7L286.7 2694.1L284.8 2679.7L284.2 2678.3L282.1 2676.3L281.3 2676.0L280.1 2676.0L278.8 2676.7L277.9 2677.8L275.8 2688.4L272.3 2748.6L269.4 2780.5L265.4 2793.5L258.3 2800.1Z" fill="#000" fill-rule="evenodd" stroke="none"/>
<rect x="258.10" y="2926.00" width="4.80" height="448.80" fill="#000" stroke="none"/>
<rect x="2408.20" y="2926.00" width="3.80" height="448.80" fill="#000" stroke="none"/>
<rect x="258.10" y="2926.00" width="2153.90" height="4.80" fill="#000" stroke="none"/>
<rect x="258.10" y="3370.00" width="2153.90" height="4.80" fill="#000" stroke="none"/>
<path d="M258.3 3370.9L259.4 3371.4L260.6 3371.4L266.0 3369.6L267.1 3368.7L267.7 3367.3L269.2 3351.2L270.2 3334.0L271.2 3300.0L273.3 3300.0L274.8 3315.0L275.1 3316.0L277.0 3319.0L277.6 3319.5L278.8 3319.8L281.6 3319.8L282.6 3319.5L283.6 3318.7L285.6 3315.7L286.2 3304.2L286.7 3275.5L287.2 3266.4L288.0 3260.8L288.8 3261.1L289.3 3265.6L293.8 3335.6L294.4 3337.7L296.9 3341.1L299.2 3345.7L300.2 3346.7L300.8 3347.0L302.0 3347.0L303.7 3346.7L304.7 3346.2L305.5 3345.2L306.7 3342.2L307.2 3340.0L309.2 3273.8L310.2 3225.4L311.7 3201.2L311.8 3201.0L312.5 3201.0L312.8 3202.3L313.8 3226.4L314.8 3286.3L315.8 3309.9L318.4 3319.2L319.2 3320.0L320.6 3320.8L321.6 3321.1L322.4 3321.1L323.4 3320.6L323.9 3320.1L325.3 3318.3L325.7 3317.0L327.2 3294.9L328.2 3303.1L328.7 3304.2L329.7 3305.4L330.7 3306.2L332.1 3306.4L334.4 3305.4L335.4 3304.5L335.8 3303.3L336.7 3290.4L337.7 3269.3L338.1 3265.9L338.3 3265.8L340.3 3318.0L341.3 3356.4L341.7 3360.4L342.1 3361.5L343.9 3363.3L345.2 3363.7L346.5 3363.4L347.9 3362.4L348.4 3361.8L348.7 3360.7L349.7 3341.6L351.2 3265.3L351.4 3263.1L352.3 3295.5L355.3 3360.0L355.7 3361.3L357.6 3363.2L358.5 3363.7L359.8 3363.8L361.9 3362.9L362.8 3362.1L363.3 3361.0L363.7 3358.8L365.2 3310.0L367.0 3208.0L367.3 3212.3L368.8 3276.8L370.3 3302.1L372.1 3310.6L372.8 3311.8L373.9 3312.5L374.3 3314.2L375.3 3322.3L376.3 3343.0L376.8 3347.4L378.5 3351.5L379.6 3352.3L380.8 3352.4L382.4 3351.8L383.3 3350.6L384.7 3345.7L385.6 3334.3L386.9 3335.1L387.8 3335.3L390.8 3334.7L391.8 3333.9L392.3 3332.6L393.1 3324.6L395.8 3327.3L397.8 3334.7L398.8 3335.6L401.8 3336.6L403.3 3354.0L404.7 3359.9L405.6 3360.9L407.0 3361.3L408.6 3361.2L409.7 3360.6L410.1 3360.0L411.1 3356.1L411.7 3350.3L413.6 3303.1L415.8 3334.0L416.3 3336.5L416.8 3337.3L417.4 3337.7L419.6 3338.4L419.8 3338.7L422.1 3343.9L422.6 3344.6L423.1 3345.1L424.4 3345.5L427.3 3345.5L428.4 3345.2L429.5 3344.4L431.5 3355.7L432.8 3358.5L433.6 3359.4L434.2 3359.7L435.2 3359.9L436.7 3359.4L437.3 3358.9L437.8 3357.8L439.7 3347.5L441.2 3330.8L442.1 3324.3L442.4 3323.7L444.3 3323.6L445.4 3322.9L446.0 3321.8L446.7 3318.8L447.2 3314.9L448.2 3293.4L448.4 3292.2L449.3 3307.4L451.2 3320.2L451.6 3321.3L452.2 3321.8L454.3 3322.9L455.6 3323.1L456.4 3322.8L457.4 3322.0L460.4 3317.7L464.1 3316.9L465.1 3315.9L465.7 3314.3L466.9 3304.6L468.4 3305.5L469.3 3305.7L472.4 3305.0L473.5 3304.0L475.2 3299.9L477.1 3292.4L477.4 3291.8L478.3 3303.4L479.3 3340.7L479.8 3344.5L480.7 3348.1L481.2 3349.0L482.9 3351.1L484.6 3356.1L485.4 3357.2L486.1 3357.6L489.3 3358.8L490.4 3358.7L491.5 3358.0L492.9 3355.4L493.2 3354.4L494.7 3332.6L495.7 3309.4L496.0 3307.9L496.8 3307.9L497.3 3313.9L497.8 3336.1L498.8 3357.9L499.3 3359.3L501.9 3361.4L504.6 3370.9L505.6 3371.8L506.8 3372.2L510.2 3372.2L511.3 3371.9L512.3 3371.0L512.8 3369.7L513.2 3360.3L514.6 3263.1L516.3 3297.0L517.7 3310.8L518.1 3311.9L521.1 3314.5L522.1 3314.8L525.0 3314.8L527.3 3320.7L529.2 3322.9L530.6 3323.4L533.5 3322.8L534.4 3321.9L534.8 3320.7L536.6 3299.4L537.3 3306.9L538.3 3334.2L540.1 3340.2L541.1 3341.1L542.3 3341.5L544.1 3341.5L545.1 3341.2L546.1 3340.4L547.4 3338.4L551.1 3337.2L551.9 3336.2L553.4 3332.6L557.5 3332.4L558.7 3332.1L559.2 3331.6L559.9 3330.3L562.1 3316.9L564.0 3316.2L565.0 3315.4L565.3 3318.1L566.3 3345.6L567.2 3357.7L567.4 3358.6L567.9 3359.2L570.0 3360.7L571.2 3361.1L572.6 3360.8L574.2 3359.3L574.7 3358.1L576.2 3339.4L576.6 3327.6L577.1 3329.5L579.7 3333.7L580.4 3334.4L582.3 3335.8L583.7 3358.0L584.2 3359.1L586.3 3361.3L587.6 3361.6L588.9 3361.3L590.6 3359.7L591.1 3359.0L591.7 3355.9L592.7 3344.1L594.1 3340.4L594.3 3340.2L597.6 3341.1L598.8 3341.0L601.6 3339.3L602.5 3338.3L602.8 3337.5L603.9 3328.2L606.7 3356.8L607.3 3358.2L609.3 3360.4L610.7 3360.9L611.4 3360.8L612.5 3360.3L615.3 3357.7L615.8 3356.5L617.1 3347.0L618.4 3345.5L620.4 3347.1L620.8 3348.4L621.8 3357.2L622.2 3358.5L623.0 3359.6L624.4 3360.6L625.1 3361.0L626.2 3361.1L627.6 3360.6L628.9 3359.4L629.6 3358.4L631.2 3345.7L631.8 3344.8L635.4 3355.3L636.0 3356.3L637.1 3356.9L638.4 3357.0L640.1 3356.5L641.2 3355.5L643.7 3347.1L646.2 3334.8L647.4 3326.1L648.8 3334.6L651.4 3338.6L653.7 3344.4L654.3 3345.2L656.1 3346.9L657.3 3347.2L658.1 3347.0L661.0 3345.1L661.7 3343.8L662.3 3341.6L663.5 3344.6L665.9 3347.5L667.1 3348.0L668.7 3347.9L669.9 3347.4L670.5 3346.7L672.6 3340.6L674.7 3321.2L675.3 3323.6L676.8 3339.7L679.0 3348.8L679.6 3349.8L680.2 3350.3L682.9 3351.2L683.6 3351.1L684.6 3350.6L686.4 3348.1L688.6 3342.7L690.6 3330.6L692.7 3332.6L695.1 3334.2L696.6 3334.6L697.9 3334.1L700.4 3332.4L701.0 3331.4L702.8 3323.7L704.8 3327.4L706.8 3339.5L709.1 3347.5L709.4 3348.3L710.0 3348.9L712.0 3349.8L712.8 3349.9L714.0 3349.5L718.0 3345.6L718.6 3344.8L721.5 3328.2L722.3 3363.2L722.7 3372.3L722.8 3373.1L723.4 3374.0L724.1 3374.5L725.3 3374.8L729.4 3374.7L730.4 3374.2L731.1 3373.1L732.2 3362.5L733.8 3360.3L734.3 3359.4L736.7 3349.6L738.6 3337.4L740.2 3335.7L741.8 3340.5L743.3 3350.9L743.7 3352.7L745.2 3355.3L746.1 3355.9L746.9 3356.1L748.0 3355.9L748.8 3355.5L749.7 3354.4L752.1 3339.3L753.9 3335.8L756.3 3340.2L758.3 3350.3L759.8 3362.7L761.4 3366.2L762.3 3367.2L763.2 3367.6L764.5 3367.5L766.3 3366.8L767.2 3365.7L770.9 3346.0L774.4 3349.2L779.1 3351.5L782.4 3352.6L784.9 3361.9L787.0 3366.4L787.7 3367.4L789.1 3367.9L792.1 3367.5L795.4 3364.9L797.4 3373.3L798.3 3374.4L799.7 3374.8L803.5 3374.7L804.8 3374.0L805.3 3373.3L805.7 3371.3L806.7 3353.6L807.1 3352.0L808.7 3350.5L811.6 3351.3L811.8 3351.5L814.3 3365.0L815.4 3373.2L816.1 3374.2L817.1 3374.7L821.0 3374.8L822.3 3374.3L823.2 3373.2L824.6 3365.2L828.0 3362.9L832.2 3358.6L834.7 3353.6L836.2 3347.2L837.3 3350.2L839.9 3362.5L840.4 3363.2L843.7 3366.4L844.7 3367.0L847.4 3367.9L848.4 3368.0L853.4 3367.6L854.6 3367.2L855.6 3366.0L858.6 3358.4L859.9 3356.4L861.2 3363.7L861.5 3364.5L862.5 3365.6L866.2 3366.5L867.0 3366.4L867.8 3365.9L870.5 3362.6L872.3 3360.7L874.0 3362.3L875.0 3362.9L878.2 3363.0L881.4 3366.1L882.5 3366.7L888.8 3366.6L890.0 3365.9L895.1 3360.8L896.2 3362.3L897.3 3362.9L900.2 3363.0L901.4 3362.6L902.3 3361.7L903.5 3358.5L904.8 3373.0L905.5 3374.2L906.5 3374.7L907.2 3374.8L911.1 3374.7L912.3 3374.1L912.8 3373.4L917.4 3356.1L919.5 3358.3L920.5 3358.8L923.3 3359.1L924.1 3359.0L924.7 3358.8L925.6 3357.9L928.3 3353.5L930.1 3357.1L931.0 3358.1L934.4 3360.3L937.6 3361.1L939.0 3360.7L939.6 3360.3L940.1 3359.4L940.6 3352.4L941.5 3354.5L942.2 3355.2L943.6 3355.6L946.2 3355.1L949.6 3359.4L950.4 3359.8L954.0 3360.8L955.2 3360.6L956.2 3359.9L958.3 3355.3L959.4 3356.2L960.9 3361.3L961.9 3362.2L963.1 3362.5L964.8 3362.4L965.8 3361.8L966.2 3361.3L968.0 3354.9L972.8 3354.8L974.9 3356.9L977.0 3363.7L977.6 3364.7L978.2 3365.2L981.3 3366.0L982.6 3365.7L988.1 3360.2L995.7 3364.9L1000.4 3365.0L1001.6 3372.7L1002.1 3373.8L1002.8 3374.4L1004.1 3374.8L1015.2 3374.8L1016.6 3374.4L1017.5 3373.3L1019.7 3362.0L1022.0 3355.0L1027.7 3355.4L1029.4 3356.8L1029.8 3357.2L1030.8 3364.9L1031.2 3366.5L1032.0 3367.3L1032.7 3367.6L1035.4 3367.9L1036.2 3367.7L1037.2 3367.0L1039.3 3362.9L1041.0 3363.9L1047.1 3366.0L1048.3 3366.1L1049.4 3365.6L1051.7 3363.9L1053.8 3361.2L1058.2 3361.2L1061.5 3364.7L1062.5 3365.1L1064.6 3365.4L1065.7 3365.2L1066.4 3364.8L1067.2 3364.0L1071.6 3355.0L1075.0 3354.7L1076.0 3354.2L1076.9 3353.2L1078.8 3373.1L1079.5 3374.2L1080.7 3374.7L1086.4 3374.8L1087.4 3374.5L1088.0 3374.2L1088.7 3373.2L1089.6 3366.5L1092.3 3366.7L1093.7 3366.2L1096.5 3362.1L1099.6 3350.3L1100.8 3346.7L1102.4 3354.2L1104.5 3358.6L1105.3 3359.5L1106.5 3360.0L1110.5 3360.4L1115.1 3358.9L1115.3 3359.5L1117.3 3373.2L1117.7 3373.8L1118.4 3374.4L1119.1 3374.7L1120.5 3374.8L1121.2 3374.7L1122.3 3374.0L1123.0 3372.7L1123.2 3371.5L1124.7 3351.7L1127.6 3342.6L1128.4 3338.6L1131.7 3363.7L1131.9 3364.5L1132.6 3365.4L1134.0 3366.5L1135.2 3367.0L1142.5 3366.4L1143.8 3366.0L1144.5 3365.1L1144.8 3364.5L1148.0 3351.7L1149.4 3352.9L1150.2 3353.2L1151.4 3353.2L1153.7 3352.4L1154.9 3351.6L1157.8 3348.1L1159.3 3350.1L1159.8 3351.2L1161.3 3360.7L1162.7 3373.0L1163.5 3374.2L1164.5 3374.7L1165.2 3374.8L1169.3 3374.7L1170.1 3374.5L1171.0 3373.6L1171.4 3372.5L1172.6 3361.0L1175.2 3360.1L1176.2 3359.0L1178.6 3350.3L1180.5 3346.1L1184.0 3361.8L1184.9 3362.8L1187.0 3364.2L1187.8 3364.5L1188.6 3364.6L1189.9 3364.1L1193.1 3361.9L1202.5 3352.5L1203.2 3351.4L1205.5 3345.7L1206.7 3345.0L1208.3 3348.7L1210.3 3355.6L1210.8 3358.9L1211.8 3372.9L1212.6 3374.2L1213.5 3374.7L1214.3 3374.8L1220.0 3374.8L1220.7 3374.7L1221.7 3374.0L1222.4 3372.6L1223.6 3366.1L1228.4 3364.9L1233.2 3362.3L1233.9 3361.4L1238.5 3349.8L1241.3 3349.3L1243.4 3362.9L1245.1 3366.4L1245.6 3367.0L1246.8 3367.5L1253.3 3367.1L1254.3 3366.8L1254.9 3366.3L1255.5 3365.3L1257.6 3357.8L1258.6 3352.3L1259.8 3356.7L1261.3 3372.7L1261.6 3373.5L1262.2 3374.1L1263.1 3374.7L1263.9 3374.8L1268.8 3374.7L1269.6 3374.5L1270.5 3373.6L1270.9 3372.5L1272.1 3361.6L1273.7 3358.4L1274.8 3361.2L1275.3 3363.3L1276.7 3373.2L1277.6 3374.3L1279.1 3374.8L1282.2 3374.7L1283.2 3374.0L1283.7 3373.4L1284.0 3372.7L1285.7 3363.3L1286.9 3359.2L1288.3 3364.1L1290.9 3368.3L1291.6 3368.7L1292.5 3368.9L1299.0 3369.5L1300.1 3369.4L1305.7 3367.5L1309.6 3363.9L1311.5 3364.8L1312.4 3364.9L1322.5 3361.4L1325.7 3362.5L1328.9 3364.6L1332.1 3368.9L1337.5 3374.1L1338.0 3374.4L1339.1 3374.7L1340.5 3374.4L1341.0 3374.0L1341.6 3373.0L1342.2 3366.1L1343.2 3362.8L1348.6 3364.9L1353.1 3367.9L1353.4 3368.4L1355.1 3373.5L1356.2 3374.5L1357.4 3374.8L1371.9 3374.8L1373.2 3374.4L1374.2 3373.4L1375.1 3368.6L1375.5 3367.7L1382.8 3361.9L1386.1 3360.6L1388.3 3368.1L1389.2 3373.2L1390.1 3374.3L1391.6 3374.8L1404.9 3374.8L1406.2 3374.5L1406.9 3373.9L1407.4 3372.8L1408.6 3366.6L1411.3 3363.7L1414.9 3366.6L1416.8 3369.2L1418.0 3369.8L1456.6 3370.5L1457.6 3370.3L1464.1 3367.6L1469.9 3366.7L1475.8 3369.6L1476.9 3369.9L1548.6 3370.8L1549.4 3370.7L1550.1 3370.3L1553.4 3366.6L1559.4 3365.2L1565.4 3368.2L1572.2 3369.8L1594.4 3368.3L1600.0 3370.3L1601.7 3373.8L1602.4 3374.4L1603.7 3374.8L2406.6 3374.8L2407.3 3374.7L2408.3 3374.1L2408.9 3373.4L2409.2 3372.3L2409.2 3353.0L2408.8 3351.7L2407.8 3350.7L2407.0 3350.4L2404.3 3350.1L2391.5 3354.4L2386.6 3353.0L2385.3 3352.9L2384.3 3353.4L2379.8 3357.0L2374.4 3356.5L2373.5 3356.5L2366.2 3358.4L2358.9 3360.9L2352.9 3359.6L2343.3 3362.2L2332.2 3363.3L2325.2 3361.2L2324.4 3361.1L2316.3 3363.3L2297.4 3364.8L2259.4 3367.1L2202.0 3367.5L1973.0 3367.1L1830.0 3367.3L1807.4 3365.1L1797.9 3365.1L1785.6 3366.0L1776.0 3364.5L1763.7 3363.5L1753.4 3364.4L1744.0 3362.6L1734.5 3365.1L1726.4 3362.9L1715.4 3364.4L1706.1 3365.1L1696.0 3363.5L1683.7 3362.6L1673.9 3363.8L1648.6 3361.9L1636.1 3362.5L1626.5 3360.8L1616.4 3363.5L1610.6 3364.4L1604.0 3361.3L1594.7 3358.8L1585.3 3357.2L1579.3 3354.6L1578.5 3354.4L1573.4 3355.2L1572.5 3355.9L1570.0 3358.8L1565.5 3361.0L1559.5 3357.2L1553.1 3355.6L1546.5 3357.1L1540.3 3355.0L1534.3 3354.3L1527.4 3355.5L1518.1 3354.9L1508.3 3353.4L1499.0 3354.2L1489.7 3353.4L1483.0 3354.8L1474.3 3351.1L1473.4 3350.9L1468.4 3351.9L1467.5 3352.6L1465.1 3355.5L1464.7 3355.6L1457.4 3356.5L1444.5 3356.2L1419.8 3354.0L1417.4 3349.4L1416.8 3348.7L1413.4 3346.8L1412.0 3346.5L1410.7 3347.0L1407.5 3349.5L1404.9 3354.6L1402.9 3350.9L1399.6 3348.8L1398.3 3348.4L1397.5 3348.5L1395.1 3349.3L1392.0 3352.0L1390.2 3350.2L1389.0 3349.6L1387.8 3349.6L1384.9 3350.5L1383.6 3351.4L1380.9 3355.2L1377.5 3352.2L1373.7 3350.5L1372.3 3350.6L1371.6 3351.0L1367.9 3354.2L1364.9 3362.3L1362.9 3358.3L1361.9 3357.3L1361.2 3356.9L1355.9 3355.6L1351.0 3352.5L1347.3 3351.2L1346.0 3351.1L1345.1 3351.4L1341.4 3355.0L1340.5 3354.0L1339.3 3353.6L1338.4 3353.6L1336.3 3354.7L1333.9 3352.4L1331.0 3351.2L1328.9 3346.9L1325.3 3344.6L1323.9 3344.5L1321.1 3346.1L1319.4 3349.0L1317.8 3347.3L1314.7 3346.1L1313.5 3346.3L1310.9 3347.6L1308.8 3349.1L1307.7 3341.3L1307.4 3340.4L1306.5 3339.4L1303.5 3338.4L1302.3 3338.6L1301.8 3338.9L1300.0 3340.4L1299.4 3341.2L1297.9 3349.3L1296.8 3344.4L1296.3 3343.4L1295.8 3342.9L1293.9 3341.7L1292.6 3341.3L1291.8 3341.4L1288.9 3342.4L1288.0 3343.6L1286.4 3347.7L1285.1 3353.8L1284.2 3350.4L1282.2 3340.9L1281.8 3339.9L1281.1 3339.2L1277.8 3337.3L1276.5 3337.3L1273.7 3338.2L1273.1 3338.6L1272.5 3339.5L1270.8 3344.2L1268.8 3353.8L1268.1 3352.8L1264.4 3333.4L1263.9 3332.3L1263.4 3331.8L1260.9 3330.6L1259.7 3330.4L1256.4 3331.7L1255.3 3332.5L1252.8 3337.5L1250.7 3347.7L1246.7 3335.8L1245.3 3327.3L1244.8 3326.0L1243.9 3325.3L1240.4 3323.7L1236.5 3323.1L1235.4 3323.2L1232.6 3324.0L1231.6 3324.6L1231.0 3325.6L1229.5 3329.6L1228.5 3322.2L1227.6 3321.1L1224.6 3320.0L1223.8 3320.0L1222.8 3320.4L1220.7 3321.8L1219.8 3322.8L1217.3 3334.2L1215.7 3338.3L1214.4 3334.9L1210.9 3330.0L1209.8 3329.2L1207.1 3328.3L1205.2 3320.5L1204.5 3319.5L1203.3 3319.0L1200.3 3318.6L1199.2 3318.9L1198.7 3319.4L1196.4 3322.0L1194.3 3329.0L1194.0 3329.7L1190.8 3331.4L1188.6 3333.5L1186.1 3330.3L1185.7 3329.3L1184.2 3320.9L1183.5 3319.1L1180.9 3317.0L1179.6 3316.8L1177.3 3317.1L1175.4 3313.9L1172.9 3312.3L1171.6 3312.0L1170.1 3312.4L1167.2 3314.5L1166.6 3315.6L1165.6 3320.8L1164.6 3319.6L1163.9 3319.2L1160.5 3318.5L1156.4 3319.7L1152.7 3319.2L1150.4 3319.5L1149.2 3320.1L1148.4 3321.2L1146.9 3325.1L1144.2 3326.5L1143.5 3327.1L1141.0 3331.6L1139.4 3340.4L1138.2 3330.3L1135.7 3323.9L1132.1 3319.1L1130.7 3312.6L1130.3 3311.7L1129.2 3310.7L1126.8 3309.6L1125.8 3309.4L1122.5 3310.2L1121.8 3310.8L1121.2 3312.0L1119.8 3319.4L1118.3 3340.7L1115.4 3336.5L1114.8 3335.9L1109.8 3334.1L1106.9 3332.2L1106.6 3331.8L1105.2 3328.0L1104.7 3327.1L1104.1 3326.5L1101.0 3324.6L1100.3 3324.5L1099.4 3324.6L1097.2 3325.3L1096.0 3326.2L1093.4 3332.9L1092.2 3337.0L1091.2 3331.1L1090.8 3329.8L1090.1 3328.9L1087.1 3326.5L1085.5 3326.2L1082.6 3327.0L1081.7 3327.9L1080.3 3330.8L1079.7 3329.2L1079.1 3328.3L1076.1 3326.2L1075.3 3325.8L1073.9 3325.9L1067.9 3327.9L1065.9 3321.3L1065.5 3320.6L1064.3 3319.7L1061.2 3319.3L1060.0 3319.7L1057.6 3321.3L1056.9 3322.1L1055.4 3328.0L1051.7 3327.4L1047.2 3328.1L1046.3 3328.4L1042.2 3330.8L1041.6 3331.9L1039.8 3338.2L1038.4 3345.3L1037.7 3336.0L1037.1 3333.3L1036.6 3332.6L1034.4 3330.5L1033.3 3330.1L1030.6 3330.2L1029.5 3330.7L1026.4 3333.3L1023.5 3339.1L1020.4 3339.6L1019.2 3340.6L1016.9 3344.2L1015.3 3348.3L1013.3 3341.9L1012.8 3340.9L1008.9 3338.1L1002.8 3332.9L1001.4 3332.3L1000.1 3332.5L998.3 3333.2L997.4 3333.8L993.9 3340.3L990.5 3344.8L988.4 3346.5L988.2 3345.7L987.2 3334.1L986.8 3332.7L986.0 3331.5L984.0 3330.0L983.4 3329.7L982.4 3329.6L979.6 3330.3L978.9 3330.7L978.0 3331.8L976.4 3335.8L973.4 3336.9L969.0 3335.7L964.5 3335.3L959.2 3337.0L958.1 3338.2L956.0 3343.5L953.1 3344.5L950.9 3342.6L947.7 3338.7L946.5 3337.9L945.3 3337.9L942.6 3338.4L941.5 3339.2L940.4 3340.7L939.9 3339.7L939.3 3339.2L937.9 3338.8L935.0 3332.6L932.0 3330.5L930.6 3330.1L927.0 3331.1L925.2 3330.5L921.3 3328.3L920.1 3328.3L919.4 3328.6L916.6 3330.6L916.1 3331.3L912.5 3340.2L909.5 3341.2L906.1 3338.4L905.3 3338.0L902.0 3336.9L900.0 3332.4L899.2 3331.4L898.2 3331.0L896.5 3330.6L895.0 3330.8L894.0 3331.5L891.1 3335.0L887.4 3342.8L885.9 3339.7L885.1 3338.8L881.4 3337.1L877.6 3336.2L874.3 3334.4L873.1 3334.4L871.2 3334.9L870.2 3335.3L869.5 3336.3L868.7 3338.4L867.4 3332.5L867.0 3331.7L865.9 3330.7L863.7 3329.7L862.5 3329.5L859.0 3330.4L858.0 3331.3L855.4 3337.3L853.3 3343.2L851.4 3334.0L850.8 3332.9L849.8 3332.1L847.1 3331.3L846.2 3331.4L844.0 3332.1L842.3 3325.7L841.9 3324.9L839.3 3322.5L838.4 3322.0L837.6 3321.9L836.6 3322.1L834.5 3323.2L833.5 3324.1L830.9 3332.8L828.8 3334.8L825.4 3333.5L823.9 3333.7L821.0 3335.2L817.3 3339.9L815.0 3338.8L810.2 3337.6L805.1 3335.7L801.1 3336.3L800.0 3337.1L792.6 3346.6L791.7 3336.1L791.0 3332.9L788.8 3330.6L787.5 3330.1L785.5 3330.5L783.0 3331.9L781.4 3324.5L780.9 3323.5L780.3 3323.0L779.3 3322.6L777.1 3322.3L773.3 3321.0L769.5 3318.9L768.0 3318.7L766.0 3319.4L764.9 3320.2L764.5 3320.9L762.9 3325.4L761.6 3319.0L759.6 3316.4L757.7 3303.8L757.0 3302.4L755.6 3301.2L755.2 3300.0L754.1 3288.4L753.8 3286.9L753.4 3286.0L751.6 3284.5L750.1 3274.6L749.3 3273.5L746.9 3271.6L745.9 3271.1L744.5 3271.2L742.8 3272.2L742.2 3272.7L741.6 3273.8L740.8 3277.6L740.3 3282.0L739.3 3306.0L738.8 3309.7L735.8 3310.7L734.8 3311.8L732.3 3322.5L730.8 3327.0L729.7 3316.5L727.7 3282.0L727.3 3280.9L726.6 3280.1L724.2 3279.2L722.6 3247.4L722.1 3246.5L721.5 3246.0L719.2 3244.5L718.1 3244.2L716.8 3244.4L715.0 3245.3L714.2 3246.1L713.8 3246.9L712.3 3282.6L710.2 3296.9L708.7 3292.2L707.2 3269.1L706.1 3242.8L705.6 3241.1L705.2 3240.4L703.1 3238.8L701.9 3238.3L701.0 3238.3L699.9 3238.8L697.7 3240.6L697.2 3241.7L696.8 3243.5L695.3 3254.3L693.8 3273.7L691.9 3273.4L690.9 3273.4L687.9 3274.3L686.8 3275.4L684.8 3282.8L683.6 3294.1L682.7 3287.2L681.0 3270.0L680.1 3268.8L677.1 3266.6L675.8 3266.5L673.6 3267.2L672.8 3267.5L672.0 3268.5L669.8 3274.1L667.8 3294.7L666.0 3306.3L663.5 3304.7L662.2 3304.5L661.0 3305.0L658.7 3306.9L658.2 3308.1L656.5 3318.6L656.2 3317.0L654.6 3305.5L654.0 3304.7L653.5 3304.3L650.7 3302.8L649.5 3302.7L646.1 3304.1L645.6 3304.4L644.9 3305.3L643.3 3313.8L642.9 3314.9L641.0 3315.7L638.1 3314.3L636.9 3314.1L635.9 3314.4L633.8 3315.5L632.9 3316.3L632.6 3317.0L630.9 3323.1L626.5 3324.2L623.0 3322.6L622.7 3321.4L621.2 3307.0L620.7 3305.7L617.9 3303.3L616.8 3303.0L615.6 3303.3L613.4 3305.2L612.9 3305.9L611.0 3314.0L609.9 3313.3L606.4 3312.3L606.2 3311.8L604.6 3294.5L603.9 3293.4L602.2 3291.9L600.7 3291.3L599.5 3291.5L598.9 3291.8L596.0 3294.4L595.7 3295.2L594.1 3301.3L591.5 3299.5L590.2 3299.1L589.1 3299.2L587.0 3300.2L585.9 3301.0L585.3 3302.6L583.9 3311.3L582.3 3309.7L579.5 3308.6L579.2 3307.7L578.2 3288.0L578.1 3287.2L577.3 3286.2L574.4 3283.8L573.2 3283.6L570.6 3283.9L569.2 3269.7L568.8 3268.1L568.1 3267.0L566.3 3265.3L565.0 3264.7L563.7 3264.8L561.2 3266.3L560.6 3267.3L558.4 3273.9L555.5 3276.0L554.7 3277.0L554.3 3278.3L553.3 3287.3L552.9 3288.5L551.7 3289.1L547.8 3290.2L547.1 3290.8L546.3 3292.0L545.8 3293.6L545.2 3300.6L544.7 3295.0L543.2 3268.3L541.6 3256.3L540.8 3255.2L538.6 3253.5L537.8 3246.1L537.5 3245.2L536.6 3244.2L535.3 3243.4L534.1 3243.0L533.1 3243.1L531.4 3244.2L530.7 3244.9L529.9 3246.2L528.4 3254.1L525.1 3254.4L524.7 3251.1L523.7 3230.3L522.7 3217.8L521.9 3216.7L519.5 3215.2L518.2 3212.1L516.8 3200.4L516.5 3199.6L515.6 3198.5L513.1 3197.0L511.9 3197.0L511.1 3197.3L508.5 3198.9L507.8 3200.0L505.4 3228.6L504.2 3204.6L503.6 3201.9L503.2 3201.2L501.3 3199.9L499.9 3199.5L498.7 3199.7L497.1 3200.6L496.2 3201.4L495.8 3202.2L493.8 3274.3L490.8 3276.2L489.8 3277.3L488.3 3288.4L487.7 3294.4L487.2 3285.1L486.2 3239.6L485.2 3223.6L485.1 3222.8L484.4 3221.8L483.8 3221.4L481.8 3220.5L480.5 3220.3L479.1 3220.9L477.6 3222.3L476.8 3223.5L475.3 3257.7L474.9 3260.3L474.2 3249.8L472.7 3211.0L472.4 3209.8L471.4 3208.9L469.2 3207.6L467.9 3207.4L466.8 3207.7L465.4 3208.5L464.6 3209.2L464.4 3209.8L462.2 3233.3L461.9 3232.4L461.5 3231.8L459.5 3230.4L458.3 3230.0L456.6 3230.4L455.7 3206.1L454.7 3154.4L454.2 3146.5L452.2 3128.9L451.8 3128.2L450.9 3127.4L448.7 3126.4L447.5 3126.1L446.2 3126.6L445.2 3127.2L444.4 3128.1L443.3 3132.9L442.8 3141.9L441.8 3193.8L440.8 3217.2L437.9 3218.7L437.1 3219.9L436.8 3221.0L435.3 3231.4L433.8 3266.0L432.3 3315.4L431.3 3332.0L426.8 3331.7L425.2 3327.0L424.7 3320.7L421.7 3258.2L419.2 3145.2L418.2 3129.5L417.8 3126.9L417.3 3125.8L416.7 3125.3L413.7 3123.1L412.6 3122.6L411.3 3122.8L409.8 3123.4L408.8 3124.2L408.3 3125.0L406.3 3184.5L405.8 3188.9L403.1 3189.4L401.8 3190.1L401.1 3191.3L399.8 3196.0L399.3 3199.4L398.1 3221.8L397.7 3209.9L396.7 3192.9L396.6 3192.1L396.2 3191.5L395.3 3190.7L393.4 3189.9L392.0 3189.8L389.0 3191.1L387.7 3192.6L387.2 3193.7L386.8 3197.8L385.3 3241.2L383.8 3262.6L381.2 3263.4L380.4 3264.2L380.1 3264.8L379.3 3268.1L378.8 3276.7L377.7 3233.8L375.2 3175.2L374.1 3168.0L373.2 3166.9L371.6 3165.8L369.6 3146.3L368.8 3145.1L367.0 3143.9L366.2 3143.7L365.0 3143.9L362.7 3145.3L361.9 3146.2L361.6 3147.0L359.5 3159.2L359.2 3156.1L357.7 3077.0L355.2 3011.6L354.9 3010.5L354.5 3009.9L352.4 3008.5L351.2 3008.1L349.9 3008.4L348.1 3009.9L347.7 3010.9L347.3 3014.0L345.3 3148.2L344.1 3134.5L343.4 3133.5L341.0 3132.1L340.1 3132.0L338.2 3132.5L337.3 3133.1L336.8 3133.7L335.8 3137.4L335.3 3147.7L334.3 3191.1L334.2 3191.1L333.7 3179.8L331.7 3073.5L331.4 3072.4L331.0 3071.7L328.3 3070.0L327.4 3069.8L326.2 3070.1L324.9 3070.8L324.3 3071.5L323.3 3075.3L322.8 3083.7L321.6 3118.2L321.2 3097.5L320.6 3088.9L320.1 3088.0L318.4 3086.7L317.8 3086.4L316.8 3086.3L315.6 3086.6L313.9 3087.8L313.1 3088.6L312.8 3089.3L311.8 3121.5L310.8 3130.6L310.5 3131.2L308.2 3132.4L307.4 3133.2L305.8 3138.5L303.8 3182.0L301.8 3214.8L300.3 3275.3L299.3 3291.7L298.2 3272.5L296.2 3214.2L295.2 3203.4L294.8 3202.7L294.1 3201.9L292.2 3201.3L290.7 3172.4L289.7 3162.7L289.2 3161.5L288.7 3160.9L287.0 3159.8L285.8 3159.5L284.8 3159.6L282.8 3160.9L282.2 3161.4L281.7 3162.6L281.3 3164.9L278.3 3219.4L277.9 3222.0L277.1 3221.9L276.2 3208.9L275.2 3160.9L274.2 3132.3L273.2 3118.6L272.8 3116.0L272.3 3115.0L270.6 3113.5L269.4 3113.1L268.5 3113.1L267.4 3113.7L265.6 3115.5L264.9 3116.9L263.3 3156.5L258.3 3216.2Z" fill="#000" fill-rule="evenodd" stroke="none"/>
<g fill="#000">
<text transform="translate(230.0 1841.5) scale(1.0000 1.1000)" font-size="68" text-anchor="end">0.09</text>
<text transform="translate(230.0 1989.3) scale(1.0000 1.1000)" font-size="68" text-anchor="end">0.06</text>
<text transform="translate(230.0 2138.4) scale(1.0000 1.1000)" font-size="68" text-anchor="end">0.03</text>
<text transform="translate(230.0 2287.4) scale(1.0000 1.1000)" font-size="68" text-anchor="end">0.00</text>
<text transform="translate(262.8 2336.0) scale(1.0000 1.1000)" font-size="68" text-anchor="middle">0</text>
<text transform="translate(695.4 2336.0) scale(1.0000 1.1000)" font-size="68" text-anchor="middle">10</text>
<text transform="translate(1125.3 2336.0) scale(1.0000 1.1000)" font-size="68" text-anchor="middle">20</text>
<text transform="translate(1555.3 2336.0) scale(1.0000 1.1000)" font-size="68" text-anchor="middle">30</text>
<text transform="translate(1985.2 2336.0) scale(1.0000 1.1000)" font-size="68" text-anchor="middle">40</text>
<text transform="translate(2415.1 2336.0) scale(1.0000 1.1000)" font-size="68" text-anchor="middle">50</text>
<text transform="translate(2396.0 1903.0) scale(1.0200 1.0700)" font-size="68" text-anchor="end" font-weight="bold">RSN 746</text>
<text transform="translate(230.0 2393.7) scale(1.0000 1.1000)" font-size="68" text-anchor="end">0.09</text>
<text transform="translate(230.0 2543.9) scale(1.0000 1.1000)" font-size="68" text-anchor="end">0.06</text>
<text transform="translate(230.0 2692.9) scale(1.0000 1.1000)" font-size="68" text-anchor="end">0.03</text>
<text transform="translate(230.0 2841.9) scale(1.0000 1.1000)" font-size="68" text-anchor="end">0.00</text>
<text transform="translate(262.8 2893.2) scale(1.0000 1.1000)" font-size="68" text-anchor="middle">0</text>
<text transform="translate(695.9 2893.2) scale(1.0000 1.1000)" font-size="68" text-anchor="middle">10</text>
<text transform="translate(1125.8 2893.2) scale(1.0000 1.1000)" font-size="68" text-anchor="middle">20</text>
<text transform="translate(1555.8 2893.2) scale(1.0000 1.1000)" font-size="68" text-anchor="middle">30</text>
<text transform="translate(1985.7 2893.2) scale(1.0000 1.1000)" font-size="68" text-anchor="middle">40</text>
<text transform="translate(2415.6 2893.2) scale(1.0000 1.1000)" font-size="68" text-anchor="middle">50</text>
<text transform="translate(2395.5 2457.0) scale(1.0200 1.0700)" font-size="68" text-anchor="end" font-weight="bold">RSN 983</text>
<text transform="translate(230.0 2955.4) scale(1.0000 1.1000)" font-size="68" text-anchor="end">0.09</text>
<text transform="translate(230.0 3102.9) scale(1.0000 1.1000)" font-size="68" text-anchor="end">0.06</text>
<text transform="translate(230.0 3251.6) scale(1.0000 1.1000)" font-size="68" text-anchor="end">0.03</text>
<text transform="translate(230.0 3400.9) scale(1.0000 1.1000)" font-size="68" text-anchor="end">0.00</text>
<text transform="translate(262.8 3453.5) scale(1.0000 1.1000)" font-size="68" text-anchor="middle">0</text>
<text transform="translate(695.9 3453.5) scale(1.0000 1.1000)" font-size="68" text-anchor="middle">10</text>
<text transform="translate(1125.8 3453.5) scale(1.0000 1.1000)" font-size="68" text-anchor="middle">20</text>
<text transform="translate(1555.8 3453.5) scale(1.0000 1.1000)" font-size="68" text-anchor="middle">30</text>
<text transform="translate(1985.7 3453.5) scale(1.0000 1.1000)" font-size="68" text-anchor="middle">40</text>
<text transform="translate(2415.6 3453.5) scale(1.0000 1.1000)" font-size="68" text-anchor="middle">50</text>
<text transform="translate(2389.4 3017.5) scale(1.0380 1.0700)" font-size="68" text-anchor="end" font-weight="bold">Artificial Wave</text>
<text transform="translate(71.0 2597.0) rotate(-90)" font-size="71" text-anchor="middle" font-weight="bold">Fourier amplitude</text>
<text transform="translate(1339.5 3538.5) scale(1.0250 1.0650)" font-size="68" text-anchor="middle" font-weight="bold">Time (s)</text>
<text transform="translate(1236.5 3627.0) scale(1.0000 1.0300)" font-size="73" text-anchor="middle" font-weight="bold">(b)</text>
</g>
</svg>
</body>
</html>
